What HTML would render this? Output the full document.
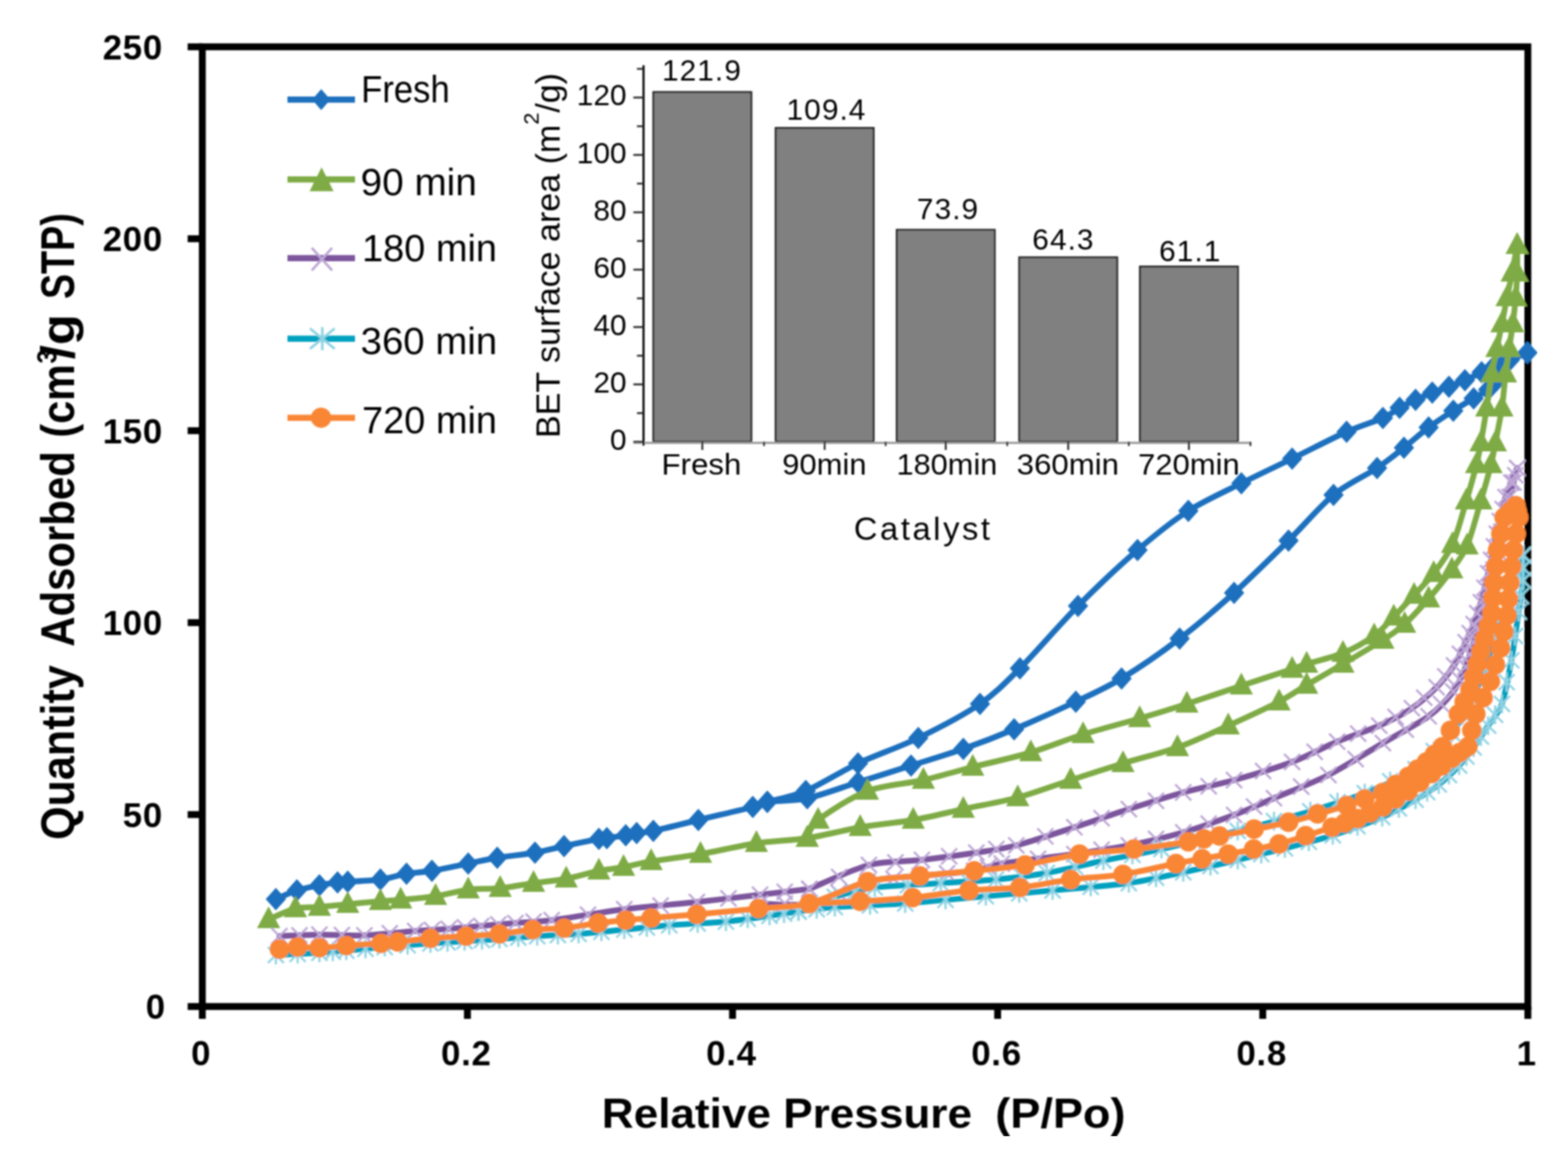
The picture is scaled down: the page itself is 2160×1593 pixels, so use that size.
<!DOCTYPE html>
<html><head><meta charset="utf-8"><title>N2 adsorption isotherms</title>
<style>
html,body{margin:0;padding:0;background:#fff;}
body{width:2160px;height:1593px;overflow:hidden;}
svg{display:block;}
.b{font-family:"Liberation Sans",Arial,sans-serif;font-weight:bold;fill:#000;}
.r{font-family:"Liberation Sans",Arial,sans-serif;fill:#000;}
</style></head><body>
<svg width="2160" height="1593" viewBox="0 0 2160 1593">
<defs><filter id="soft" x="0" y="0" width="100%" height="100%"><feGaussianBlur stdDeviation="1.2"/></filter></defs>
<rect x="0" y="0" width="2160" height="1593" fill="#fff"/>
<g filter="url(#soft)">

<g stroke="#000" stroke-width="9.5" fill="none" stroke-linecap="butt">
<rect x="278.7" y="64.5" width="1826.0" height="1322.5"/>
<line x1="258.5" y1="1387.0" x2="278.7" y2="1387.0"/>
<line x1="258.5" y1="1122.5" x2="278.7" y2="1122.5"/>
<line x1="258.5" y1="858.0" x2="278.7" y2="858.0"/>
<line x1="258.5" y1="593.5" x2="278.7" y2="593.5"/>
<line x1="258.5" y1="329.0" x2="278.7" y2="329.0"/>
<line x1="258.5" y1="64.5" x2="278.7" y2="64.5"/>
<line x1="278.7" y1="1387.0" x2="278.7" y2="1404"/>
<line x1="643.9" y1="1387.0" x2="643.9" y2="1404"/>
<line x1="1009.1" y1="1387.0" x2="1009.1" y2="1404"/>
<line x1="1374.3" y1="1387.0" x2="1374.3" y2="1404"/>
<line x1="1739.5" y1="1387.0" x2="1739.5" y2="1404"/>
<line x1="2104.7" y1="1387.0" x2="2104.7" y2="1404"/>
</g>
<g class="b" font-size="48" text-anchor="end" letter-spacing="1">
<text x="228.5" y="1404.0">0</text>
<text x="224.5" y="1139.5">50</text>
<text x="224.5" y="875.0">100</text>
<text x="224.5" y="610.5">150</text>
<text x="224.5" y="346.0">200</text>
<text x="224.5" y="81.5">250</text>
</g>
<g class="b" font-size="48" text-anchor="middle" letter-spacing="1">
<text x="277.2" y="1468">0</text>
<text x="642.4" y="1468">0.2</text>
<text x="1007.6" y="1468">0.4</text>
<text x="1372.8" y="1468">0.6</text>
<text x="1738.0" y="1468">0.8</text>
<text x="2103.2" y="1468">1</text>
</g>
<text class="b" font-size="57" x="829" y="1554" textLength="510" lengthAdjust="spacingAndGlyphs">Relative Pressure</text>
<text class="b" font-size="57" x="1371" y="1554" textLength="179.5" lengthAdjust="spacingAndGlyphs">(P/Po)</text>
<text class="b" font-size="64" transform="translate(101.6,1157.5) rotate(-90)" x="0" y="0" textLength="240.7" lengthAdjust="spacingAndGlyphs">Quantity</text>
<text class="b" font-size="64" transform="translate(101.6,891.3) rotate(-90)" x="0" y="0" textLength="269.5" lengthAdjust="spacingAndGlyphs">Adsorbed</text>
<text class="b" font-size="64" transform="translate(101.6,603.0) rotate(-90)" x="0" y="0" textLength="101.0" lengthAdjust="spacingAndGlyphs">(cm</text>
<text class="b" font-size="64" transform="translate(101.6,495.0) rotate(-90)" x="0" y="0" textLength="62.0" lengthAdjust="spacingAndGlyphs">/g</text>
<text class="b" font-size="64" transform="translate(101.6,412.0) rotate(-90)" x="0" y="0" textLength="118.2" lengthAdjust="spacingAndGlyphs">STP)</text>
<text class="b" font-size="38" transform="translate(78,501) rotate(-90)" x="0" y="0" textLength="19" lengthAdjust="spacingAndGlyphs">3</text>
<g>
<path d="M380.0,1239.0 C384.4,1237.2 400.0,1229.8 409.0,1227.0 C418.0,1224.2 431.6,1221.7 440.0,1220.0 C448.4,1218.3 459.1,1216.8 465.0,1216.0 C470.9,1215.2 470.1,1215.6 479.0,1215.0 C487.9,1214.4 511.9,1213.7 524.0,1212.0 C536.1,1210.3 549.4,1205.8 560.0,1204.0 C570.6,1202.2 582.2,1202.1 595.0,1200.0 C607.8,1197.9 631.5,1192.7 645.0,1190.0 C658.5,1187.3 671.2,1184.2 685.0,1182.0 C698.8,1179.8 723.2,1177.4 737.0,1175.0 C750.8,1172.6 763.8,1168.8 777.0,1166.0 C790.2,1163.2 816.1,1157.7 825.0,1156.0 C833.9,1154.3 830.5,1155.8 836.0,1155.0 C841.5,1154.2 855.9,1152.0 862.0,1151.0 C868.1,1150.0 871.3,1148.9 877.0,1148.0 C882.7,1147.1 887.2,1147.7 900.0,1145.0 C912.8,1142.3 941.5,1135.0 962.0,1130.0 C982.5,1125.0 1022.8,1115.8 1037.0,1112.0 C1051.2,1108.2 1045.8,1106.8 1057.0,1105.0 C1068.2,1103.2 1093.2,1104.0 1112.0,1100.0 C1130.8,1096.0 1160.5,1084.8 1182.0,1078.0 C1203.5,1071.2 1233.2,1061.9 1255.0,1055.0 C1276.8,1048.1 1305.7,1039.5 1327.0,1032.0 C1348.3,1024.5 1373.8,1014.8 1397.0,1005.0 C1420.2,995.2 1459.8,977.5 1482.0,967.0 C1504.2,956.5 1523.5,948.0 1545.0,935.0 C1566.5,922.0 1601.8,897.7 1625.0,880.0 C1648.2,862.3 1677.5,837.2 1700.0,817.0 C1722.5,796.8 1754.5,765.2 1775.0,745.0 C1795.5,724.8 1818.7,697.0 1837.0,682.0 C1855.3,667.0 1882.5,654.8 1897.0,645.0 C1911.5,635.2 1923.3,625.4 1934.0,617.0 C1944.7,608.6 1957.8,596.6 1968.0,589.0 C1978.2,581.4 1992.7,572.0 2002.0,566.0 C2011.3,560.0 2022.8,553.4 2030.0,549.0 C2037.2,544.6 2045.2,540.8 2050.0,537.0 C2054.8,533.2 2059.4,528.8 2062.0,524.0 C2064.6,519.2 2064.0,509.8 2067.0,505.0 C2070.0,500.2 2076.4,494.9 2082.0,492.0 C2087.6,489.1 2100.7,486.9 2104.0,486.0" fill="none" stroke="#1e6fbd" stroke-width="8" stroke-linejoin="round" stroke-linecap="round"/>
<path d="M2104.0,486.0 C2100.4,487.5 2087.1,493.0 2080.0,496.0 C2072.9,499.0 2062.8,503.4 2057.0,506.0 C2051.2,508.6 2046.8,510.3 2041.0,513.0 C2035.2,515.7 2024.8,521.0 2018.0,524.0 C2011.2,527.0 2002.8,530.5 1996.0,533.0 C1989.2,535.5 1979.9,538.3 1973.0,541.0 C1966.1,543.7 1956.8,547.9 1950.0,551.0 C1943.2,554.1 1934.8,558.2 1928.0,562.0 C1921.2,565.8 1916.0,571.0 1905.0,576.0 C1894.0,581.0 1873.8,586.6 1855.0,595.0 C1836.2,603.4 1801.8,621.4 1780.0,632.0 C1758.2,642.6 1731.5,655.2 1710.0,666.0 C1688.5,676.8 1658.5,690.2 1637.0,704.0 C1615.5,717.8 1589.8,738.4 1567.0,758.0 C1544.2,777.6 1509.3,810.5 1485.0,835.0 C1460.7,859.5 1425.2,900.8 1405.0,921.0 C1384.8,941.2 1371.0,955.6 1350.0,970.0 C1329.0,984.4 1290.2,1004.7 1265.0,1017.0 C1239.8,1029.3 1205.2,1041.0 1182.0,1052.0 C1158.8,1063.0 1128.8,1082.0 1110.0,1090.0 C1091.2,1098.0 1065.0,1102.8 1057.0,1105.0" fill="none" stroke="#1e6fbd" stroke-width="8" stroke-linejoin="round" stroke-linecap="round"/>
<path d="M380.0,1223.5 L394.0,1239.0 L380.0,1254.5 L366.0,1239.0Z" fill="#1e6fbd"/>
<path d="M409.0,1211.5 L423.0,1227.0 L409.0,1242.5 L395.0,1227.0Z" fill="#1e6fbd"/>
<path d="M440.0,1204.5 L454.0,1220.0 L440.0,1235.5 L426.0,1220.0Z" fill="#1e6fbd"/>
<path d="M465.0,1200.5 L479.0,1216.0 L465.0,1231.5 L451.0,1216.0Z" fill="#1e6fbd"/>
<path d="M479.0,1199.5 L493.0,1215.0 L479.0,1230.5 L465.0,1215.0Z" fill="#1e6fbd"/>
<path d="M524.0,1196.5 L538.0,1212.0 L524.0,1227.5 L510.0,1212.0Z" fill="#1e6fbd"/>
<path d="M560.0,1188.5 L574.0,1204.0 L560.0,1219.5 L546.0,1204.0Z" fill="#1e6fbd"/>
<path d="M595.0,1184.5 L609.0,1200.0 L595.0,1215.5 L581.0,1200.0Z" fill="#1e6fbd"/>
<path d="M645.0,1174.5 L659.0,1190.0 L645.0,1205.5 L631.0,1190.0Z" fill="#1e6fbd"/>
<path d="M685.0,1166.5 L699.0,1182.0 L685.0,1197.5 L671.0,1182.0Z" fill="#1e6fbd"/>
<path d="M737.0,1159.5 L751.0,1175.0 L737.0,1190.5 L723.0,1175.0Z" fill="#1e6fbd"/>
<path d="M777.0,1150.5 L791.0,1166.0 L777.0,1181.5 L763.0,1166.0Z" fill="#1e6fbd"/>
<path d="M825.0,1140.5 L839.0,1156.0 L825.0,1171.5 L811.0,1156.0Z" fill="#1e6fbd"/>
<path d="M836.0,1139.5 L850.0,1155.0 L836.0,1170.5 L822.0,1155.0Z" fill="#1e6fbd"/>
<path d="M862.0,1135.5 L876.0,1151.0 L862.0,1166.5 L848.0,1151.0Z" fill="#1e6fbd"/>
<path d="M877.0,1132.5 L891.0,1148.0 L877.0,1163.5 L863.0,1148.0Z" fill="#1e6fbd"/>
<path d="M900.0,1129.5 L914.0,1145.0 L900.0,1160.5 L886.0,1145.0Z" fill="#1e6fbd"/>
<path d="M962.0,1114.5 L976.0,1130.0 L962.0,1145.5 L948.0,1130.0Z" fill="#1e6fbd"/>
<path d="M1037.0,1096.5 L1051.0,1112.0 L1037.0,1127.5 L1023.0,1112.0Z" fill="#1e6fbd"/>
<path d="M1057.0,1089.5 L1071.0,1105.0 L1057.0,1120.5 L1043.0,1105.0Z" fill="#1e6fbd"/>
<path d="M1112.0,1084.5 L1126.0,1100.0 L1112.0,1115.5 L1098.0,1100.0Z" fill="#1e6fbd"/>
<path d="M1182.0,1062.5 L1196.0,1078.0 L1182.0,1093.5 L1168.0,1078.0Z" fill="#1e6fbd"/>
<path d="M1255.0,1039.5 L1269.0,1055.0 L1255.0,1070.5 L1241.0,1055.0Z" fill="#1e6fbd"/>
<path d="M1327.0,1016.5 L1341.0,1032.0 L1327.0,1047.5 L1313.0,1032.0Z" fill="#1e6fbd"/>
<path d="M1397.0,989.5 L1411.0,1005.0 L1397.0,1020.5 L1383.0,1005.0Z" fill="#1e6fbd"/>
<path d="M1482.0,951.5 L1496.0,967.0 L1482.0,982.5 L1468.0,967.0Z" fill="#1e6fbd"/>
<path d="M1545.0,919.5 L1559.0,935.0 L1545.0,950.5 L1531.0,935.0Z" fill="#1e6fbd"/>
<path d="M1625.0,864.5 L1639.0,880.0 L1625.0,895.5 L1611.0,880.0Z" fill="#1e6fbd"/>
<path d="M1700.0,801.5 L1714.0,817.0 L1700.0,832.5 L1686.0,817.0Z" fill="#1e6fbd"/>
<path d="M1775.0,729.5 L1789.0,745.0 L1775.0,760.5 L1761.0,745.0Z" fill="#1e6fbd"/>
<path d="M1837.0,666.5 L1851.0,682.0 L1837.0,697.5 L1823.0,682.0Z" fill="#1e6fbd"/>
<path d="M1897.0,629.5 L1911.0,645.0 L1897.0,660.5 L1883.0,645.0Z" fill="#1e6fbd"/>
<path d="M1934.0,601.5 L1948.0,617.0 L1934.0,632.5 L1920.0,617.0Z" fill="#1e6fbd"/>
<path d="M1968.0,573.5 L1982.0,589.0 L1968.0,604.5 L1954.0,589.0Z" fill="#1e6fbd"/>
<path d="M2002.0,550.5 L2016.0,566.0 L2002.0,581.5 L1988.0,566.0Z" fill="#1e6fbd"/>
<path d="M2030.0,533.5 L2044.0,549.0 L2030.0,564.5 L2016.0,549.0Z" fill="#1e6fbd"/>
<path d="M2050.0,521.5 L2064.0,537.0 L2050.0,552.5 L2036.0,537.0Z" fill="#1e6fbd"/>
<path d="M2062.0,508.5 L2076.0,524.0 L2062.0,539.5 L2048.0,524.0Z" fill="#1e6fbd"/>
<path d="M2067.0,489.5 L2081.0,505.0 L2067.0,520.5 L2053.0,505.0Z" fill="#1e6fbd"/>
<path d="M2082.0,476.5 L2096.0,492.0 L2082.0,507.5 L2068.0,492.0Z" fill="#1e6fbd"/>
<path d="M2104.0,470.5 L2118.0,486.0 L2104.0,501.5 L2090.0,486.0Z" fill="#1e6fbd"/>
<path d="M2104.0,470.5 L2118.0,486.0 L2104.0,501.5 L2090.0,486.0Z" fill="#1e6fbd"/>
<path d="M2080.0,480.5 L2094.0,496.0 L2080.0,511.5 L2066.0,496.0Z" fill="#1e6fbd"/>
<path d="M2057.0,490.5 L2071.0,506.0 L2057.0,521.5 L2043.0,506.0Z" fill="#1e6fbd"/>
<path d="M2041.0,497.5 L2055.0,513.0 L2041.0,528.5 L2027.0,513.0Z" fill="#1e6fbd"/>
<path d="M2018.0,508.5 L2032.0,524.0 L2018.0,539.5 L2004.0,524.0Z" fill="#1e6fbd"/>
<path d="M1996.0,517.5 L2010.0,533.0 L1996.0,548.5 L1982.0,533.0Z" fill="#1e6fbd"/>
<path d="M1973.0,525.5 L1987.0,541.0 L1973.0,556.5 L1959.0,541.0Z" fill="#1e6fbd"/>
<path d="M1950.0,535.5 L1964.0,551.0 L1950.0,566.5 L1936.0,551.0Z" fill="#1e6fbd"/>
<path d="M1928.0,546.5 L1942.0,562.0 L1928.0,577.5 L1914.0,562.0Z" fill="#1e6fbd"/>
<path d="M1905.0,560.5 L1919.0,576.0 L1905.0,591.5 L1891.0,576.0Z" fill="#1e6fbd"/>
<path d="M1855.0,579.5 L1869.0,595.0 L1855.0,610.5 L1841.0,595.0Z" fill="#1e6fbd"/>
<path d="M1780.0,616.5 L1794.0,632.0 L1780.0,647.5 L1766.0,632.0Z" fill="#1e6fbd"/>
<path d="M1710.0,650.5 L1724.0,666.0 L1710.0,681.5 L1696.0,666.0Z" fill="#1e6fbd"/>
<path d="M1637.0,688.5 L1651.0,704.0 L1637.0,719.5 L1623.0,704.0Z" fill="#1e6fbd"/>
<path d="M1567.0,742.5 L1581.0,758.0 L1567.0,773.5 L1553.0,758.0Z" fill="#1e6fbd"/>
<path d="M1485.0,819.5 L1499.0,835.0 L1485.0,850.5 L1471.0,835.0Z" fill="#1e6fbd"/>
<path d="M1405.0,905.5 L1419.0,921.0 L1405.0,936.5 L1391.0,921.0Z" fill="#1e6fbd"/>
<path d="M1350.0,954.5 L1364.0,970.0 L1350.0,985.5 L1336.0,970.0Z" fill="#1e6fbd"/>
<path d="M1265.0,1001.5 L1279.0,1017.0 L1265.0,1032.5 L1251.0,1017.0Z" fill="#1e6fbd"/>
<path d="M1182.0,1036.5 L1196.0,1052.0 L1182.0,1067.5 L1168.0,1052.0Z" fill="#1e6fbd"/>
<path d="M1110.0,1074.5 L1124.0,1090.0 L1110.0,1105.5 L1096.0,1090.0Z" fill="#1e6fbd"/>
<path d="M1057.0,1089.5 L1071.0,1105.0 L1057.0,1120.5 L1043.0,1105.0Z" fill="#1e6fbd"/>
</g>
<g>
<path d="M370.0,1267.0 C375.6,1264.8 396.5,1254.5 407.0,1252.0 C417.5,1249.5 429.2,1250.9 440.0,1250.0 C450.8,1249.1 466.4,1247.2 479.0,1246.0 C491.6,1244.8 513.0,1242.9 524.0,1242.0 C535.0,1241.1 540.6,1241.0 552.0,1240.0 C563.4,1239.0 586.0,1237.1 600.0,1235.0 C614.0,1232.9 631.6,1227.7 645.0,1226.0 C658.4,1224.3 675.5,1225.3 689.0,1224.0 C702.5,1222.7 721.4,1219.0 735.0,1217.0 C748.6,1215.0 766.5,1213.5 780.0,1211.0 C793.5,1208.5 813.1,1202.4 825.0,1200.0 C836.9,1197.6 848.2,1197.0 859.0,1195.0 C869.8,1193.0 881.1,1189.7 897.0,1187.0 C912.9,1184.3 943.2,1180.8 965.0,1177.0 C986.8,1173.2 1020.0,1165.3 1042.0,1162.0 C1064.0,1158.7 1090.5,1158.3 1112.0,1155.0 C1133.5,1151.7 1163.1,1143.8 1185.0,1140.0 C1206.9,1136.2 1236.7,1133.8 1258.0,1130.0 C1279.3,1126.2 1305.4,1119.7 1327.0,1115.0 C1348.6,1110.3 1379.8,1105.0 1402.0,1099.0 C1424.2,1093.0 1453.2,1082.0 1475.0,1075.0 C1496.8,1068.0 1525.0,1058.8 1547.0,1052.0 C1569.0,1045.2 1600.2,1037.8 1622.0,1030.0 C1643.8,1022.2 1671.0,1009.5 1692.0,1000.0 C1713.0,990.5 1745.8,975.4 1762.0,967.0 C1778.2,958.6 1786.8,951.8 1800.0,944.0 C1813.2,936.2 1834.2,924.3 1850.0,915.0 C1865.8,905.7 1892.2,890.2 1905.0,882.0 C1917.8,873.8 1925.5,868.5 1935.0,860.0 C1944.5,851.5 1958.2,836.2 1968.0,825.0 C1977.8,813.8 1992.0,796.0 2000.0,785.0 C2008.0,774.0 2015.0,766.2 2021.0,752.0 C2027.0,737.8 2035.0,706.8 2040.0,690.0 C2045.0,673.2 2051.0,652.0 2054.0,640.0 C2057.0,628.0 2057.8,621.7 2060.0,610.0 C2062.2,598.3 2066.9,576.2 2069.0,562.0 C2071.1,547.8 2072.5,527.3 2074.0,515.0 C2075.5,502.7 2077.5,490.4 2079.0,480.0 C2080.5,469.6 2082.7,456.5 2084.0,446.0 C2085.3,435.5 2087.1,420.5 2088.0,410.0 C2088.9,399.5 2089.7,386.8 2090.0,376.0 C2090.3,365.2 2090.0,343.7 2090.0,338.0" fill="none" stroke="#7eab44" stroke-width="8" stroke-linejoin="round" stroke-linecap="round"/>
<path d="M2090.0,338.0 C2088.9,343.7 2085.1,365.2 2083.0,376.0 C2080.9,386.8 2078.1,399.5 2076.0,410.0 C2073.9,420.5 2071.1,435.5 2069.0,446.0 C2066.9,456.5 2064.1,469.6 2062.0,480.0 C2059.9,490.4 2057.1,502.7 2055.0,515.0 C2052.9,527.3 2050.2,547.8 2048.0,562.0 C2045.8,576.2 2042.1,598.3 2040.0,610.0 C2037.9,621.7 2037.0,628.0 2034.0,640.0 C2031.0,652.0 2025.0,673.5 2020.0,690.0 C2015.0,706.5 2007.8,735.0 2001.0,750.0 C1994.2,765.0 1983.0,779.5 1975.0,790.0 C1967.0,800.5 1956.2,811.0 1948.0,820.0 C1939.8,829.0 1928.2,841.6 1920.0,850.0 C1911.8,858.4 1903.5,868.5 1893.0,876.0 C1882.5,883.5 1864.0,894.1 1850.0,900.0 C1836.0,905.9 1810.5,911.7 1800.0,915.0 C1789.5,918.3 1793.5,917.5 1780.0,922.0 C1766.5,926.5 1731.8,937.8 1710.0,945.0 C1688.2,952.2 1656.0,963.2 1635.0,970.0 C1614.0,976.8 1591.5,983.7 1570.0,990.0 C1548.5,996.3 1514.5,1005.0 1492.0,1012.0 C1469.5,1019.0 1442.8,1030.2 1420.0,1037.0 C1397.2,1043.8 1362.2,1051.3 1340.0,1057.0 C1317.8,1062.7 1293.8,1070.0 1272.0,1075.0 C1250.2,1080.0 1216.8,1081.8 1195.0,1090.0 C1173.2,1098.2 1139.5,1120.2 1127.0,1130.0 C1114.5,1139.8 1114.2,1151.2 1112.0,1155.0" fill="none" stroke="#7eab44" stroke-width="8" stroke-linejoin="round" stroke-linecap="round"/>
<path d="M370.0,1249.0 L386.0,1279.0 L354.0,1279.0Z" fill="#7eab44"/>
<path d="M407.0,1234.0 L423.0,1264.0 L391.0,1264.0Z" fill="#7eab44"/>
<path d="M440.0,1232.0 L456.0,1262.0 L424.0,1262.0Z" fill="#7eab44"/>
<path d="M479.0,1228.0 L495.0,1258.0 L463.0,1258.0Z" fill="#7eab44"/>
<path d="M524.0,1224.0 L540.0,1254.0 L508.0,1254.0Z" fill="#7eab44"/>
<path d="M552.0,1222.0 L568.0,1252.0 L536.0,1252.0Z" fill="#7eab44"/>
<path d="M600.0,1217.0 L616.0,1247.0 L584.0,1247.0Z" fill="#7eab44"/>
<path d="M645.0,1208.0 L661.0,1238.0 L629.0,1238.0Z" fill="#7eab44"/>
<path d="M689.0,1206.0 L705.0,1236.0 L673.0,1236.0Z" fill="#7eab44"/>
<path d="M735.0,1199.0 L751.0,1229.0 L719.0,1229.0Z" fill="#7eab44"/>
<path d="M780.0,1193.0 L796.0,1223.0 L764.0,1223.0Z" fill="#7eab44"/>
<path d="M825.0,1182.0 L841.0,1212.0 L809.0,1212.0Z" fill="#7eab44"/>
<path d="M859.0,1177.0 L875.0,1207.0 L843.0,1207.0Z" fill="#7eab44"/>
<path d="M897.0,1169.0 L913.0,1199.0 L881.0,1199.0Z" fill="#7eab44"/>
<path d="M965.0,1159.0 L981.0,1189.0 L949.0,1189.0Z" fill="#7eab44"/>
<path d="M1042.0,1144.0 L1058.0,1174.0 L1026.0,1174.0Z" fill="#7eab44"/>
<path d="M1112.0,1137.0 L1128.0,1167.0 L1096.0,1167.0Z" fill="#7eab44"/>
<path d="M1185.0,1122.0 L1201.0,1152.0 L1169.0,1152.0Z" fill="#7eab44"/>
<path d="M1258.0,1112.0 L1274.0,1142.0 L1242.0,1142.0Z" fill="#7eab44"/>
<path d="M1327.0,1097.0 L1343.0,1127.0 L1311.0,1127.0Z" fill="#7eab44"/>
<path d="M1402.0,1081.0 L1418.0,1111.0 L1386.0,1111.0Z" fill="#7eab44"/>
<path d="M1475.0,1057.0 L1491.0,1087.0 L1459.0,1087.0Z" fill="#7eab44"/>
<path d="M1547.0,1034.0 L1563.0,1064.0 L1531.0,1064.0Z" fill="#7eab44"/>
<path d="M1622.0,1012.0 L1638.0,1042.0 L1606.0,1042.0Z" fill="#7eab44"/>
<path d="M1692.0,982.0 L1708.0,1012.0 L1676.0,1012.0Z" fill="#7eab44"/>
<path d="M1762.0,949.0 L1778.0,979.0 L1746.0,979.0Z" fill="#7eab44"/>
<path d="M1800.0,926.0 L1816.0,956.0 L1784.0,956.0Z" fill="#7eab44"/>
<path d="M1850.0,897.0 L1866.0,927.0 L1834.0,927.0Z" fill="#7eab44"/>
<path d="M1905.0,864.0 L1921.0,894.0 L1889.0,894.0Z" fill="#7eab44"/>
<path d="M1935.0,842.0 L1951.0,872.0 L1919.0,872.0Z" fill="#7eab44"/>
<path d="M1968.0,807.0 L1984.0,837.0 L1952.0,837.0Z" fill="#7eab44"/>
<path d="M2000.0,767.0 L2016.0,797.0 L1984.0,797.0Z" fill="#7eab44"/>
<path d="M2021.0,734.0 L2037.0,764.0 L2005.0,764.0Z" fill="#7eab44"/>
<path d="M2040.0,672.0 L2056.0,702.0 L2024.0,702.0Z" fill="#7eab44"/>
<path d="M2054.0,622.0 L2070.0,652.0 L2038.0,652.0Z" fill="#7eab44"/>
<path d="M2060.0,592.0 L2076.0,622.0 L2044.0,622.0Z" fill="#7eab44"/>
<path d="M2069.0,544.0 L2085.0,574.0 L2053.0,574.0Z" fill="#7eab44"/>
<path d="M2074.0,497.0 L2090.0,527.0 L2058.0,527.0Z" fill="#7eab44"/>
<path d="M2079.0,462.0 L2095.0,492.0 L2063.0,492.0Z" fill="#7eab44"/>
<path d="M2084.0,428.0 L2100.0,458.0 L2068.0,458.0Z" fill="#7eab44"/>
<path d="M2088.0,392.0 L2104.0,422.0 L2072.0,422.0Z" fill="#7eab44"/>
<path d="M2090.0,358.0 L2106.0,388.0 L2074.0,388.0Z" fill="#7eab44"/>
<path d="M2090.0,320.0 L2106.0,350.0 L2074.0,350.0Z" fill="#7eab44"/>
<path d="M2090.0,320.0 L2106.0,350.0 L2074.0,350.0Z" fill="#7eab44"/>
<path d="M2083.0,358.0 L2099.0,388.0 L2067.0,388.0Z" fill="#7eab44"/>
<path d="M2076.0,392.0 L2092.0,422.0 L2060.0,422.0Z" fill="#7eab44"/>
<path d="M2069.0,428.0 L2085.0,458.0 L2053.0,458.0Z" fill="#7eab44"/>
<path d="M2062.0,462.0 L2078.0,492.0 L2046.0,492.0Z" fill="#7eab44"/>
<path d="M2055.0,497.0 L2071.0,527.0 L2039.0,527.0Z" fill="#7eab44"/>
<path d="M2048.0,544.0 L2064.0,574.0 L2032.0,574.0Z" fill="#7eab44"/>
<path d="M2040.0,592.0 L2056.0,622.0 L2024.0,622.0Z" fill="#7eab44"/>
<path d="M2034.0,622.0 L2050.0,652.0 L2018.0,652.0Z" fill="#7eab44"/>
<path d="M2020.0,672.0 L2036.0,702.0 L2004.0,702.0Z" fill="#7eab44"/>
<path d="M2001.0,732.0 L2017.0,762.0 L1985.0,762.0Z" fill="#7eab44"/>
<path d="M1975.0,772.0 L1991.0,802.0 L1959.0,802.0Z" fill="#7eab44"/>
<path d="M1948.0,802.0 L1964.0,832.0 L1932.0,832.0Z" fill="#7eab44"/>
<path d="M1920.0,832.0 L1936.0,862.0 L1904.0,862.0Z" fill="#7eab44"/>
<path d="M1893.0,858.0 L1909.0,888.0 L1877.0,888.0Z" fill="#7eab44"/>
<path d="M1850.0,882.0 L1866.0,912.0 L1834.0,912.0Z" fill="#7eab44"/>
<path d="M1800.0,897.0 L1816.0,927.0 L1784.0,927.0Z" fill="#7eab44"/>
<path d="M1780.0,904.0 L1796.0,934.0 L1764.0,934.0Z" fill="#7eab44"/>
<path d="M1710.0,927.0 L1726.0,957.0 L1694.0,957.0Z" fill="#7eab44"/>
<path d="M1635.0,952.0 L1651.0,982.0 L1619.0,982.0Z" fill="#7eab44"/>
<path d="M1570.0,972.0 L1586.0,1002.0 L1554.0,1002.0Z" fill="#7eab44"/>
<path d="M1492.0,994.0 L1508.0,1024.0 L1476.0,1024.0Z" fill="#7eab44"/>
<path d="M1420.0,1019.0 L1436.0,1049.0 L1404.0,1049.0Z" fill="#7eab44"/>
<path d="M1340.0,1039.0 L1356.0,1069.0 L1324.0,1069.0Z" fill="#7eab44"/>
<path d="M1272.0,1057.0 L1288.0,1087.0 L1256.0,1087.0Z" fill="#7eab44"/>
<path d="M1195.0,1072.0 L1211.0,1102.0 L1179.0,1102.0Z" fill="#7eab44"/>
<path d="M1127.0,1112.0 L1143.0,1142.0 L1111.0,1142.0Z" fill="#7eab44"/>
<path d="M1112.0,1137.0 L1128.0,1167.0 L1096.0,1167.0Z" fill="#7eab44"/>
</g>
<g>
<path d="M385.0,1290.0 C393.2,1289.7 422.4,1288.2 440.0,1288.0 C457.6,1287.8 482.2,1289.8 502.0,1289.0 C521.8,1288.2 554.6,1284.3 572.0,1283.0 C589.4,1281.7 604.4,1281.0 618.0,1280.0 C631.6,1279.0 649.2,1277.2 663.0,1276.0 C676.8,1274.8 695.5,1273.2 710.0,1272.0 C724.5,1270.8 737.5,1270.8 760.0,1268.0 C782.5,1265.2 830.0,1256.8 860.0,1253.0 C890.0,1249.2 932.0,1246.0 960.0,1243.0 C988.0,1240.0 1023.8,1235.7 1047.0,1233.0 C1070.2,1230.3 1104.8,1226.2 1115.0,1225.0" fill="none" stroke="#7b559c" stroke-width="8" stroke-linejoin="round" stroke-linecap="round"/>
<path d="M1115.0,1225.0 C1127.3,1220.0 1173.8,1198.0 1197.0,1192.0 C1220.2,1186.0 1247.8,1187.5 1270.0,1185.0 C1292.2,1182.5 1325.5,1178.0 1345.0,1175.0 C1364.5,1172.0 1379.8,1170.2 1400.0,1165.0 C1420.2,1159.8 1456.8,1147.5 1480.0,1140.0 C1503.2,1132.5 1532.5,1122.2 1555.0,1115.0 C1577.5,1107.8 1608.2,1098.0 1630.0,1092.0 C1651.8,1086.0 1677.5,1081.3 1700.0,1075.0 C1722.5,1068.7 1758.7,1058.0 1780.0,1050.0 C1801.3,1042.0 1824.0,1029.5 1842.0,1022.0 C1860.0,1014.5 1884.5,1006.9 1900.0,1000.0 C1915.5,993.1 1933.2,984.0 1945.0,976.0 C1956.8,968.0 1970.3,955.9 1979.0,947.0 C1987.7,938.1 1997.0,926.3 2003.0,917.0 C2009.0,907.7 2015.0,893.5 2019.0,885.0 C2023.0,876.5 2026.8,868.2 2030.0,860.0 C2033.2,851.8 2037.0,840.5 2040.0,830.0 C2043.0,819.5 2047.3,801.5 2050.0,790.0 C2052.7,778.5 2055.6,763.8 2058.0,753.0 C2060.4,742.2 2063.6,728.2 2066.0,718.0 C2068.4,707.8 2070.4,696.0 2074.0,685.0 C2077.6,674.0 2087.6,651.0 2090.0,645.0" fill="none" stroke="#7b559c" stroke-width="8" stroke-linejoin="round" stroke-linecap="round"/>
<path d="M1047.0,1245.0 C1057.2,1245.0 1092.8,1249.5 1115.0,1245.0 C1137.2,1240.5 1172.2,1220.7 1195.0,1215.0 C1217.8,1209.3 1245.0,1209.2 1267.0,1207.0 C1289.0,1204.8 1325.0,1202.5 1342.0,1200.0 C1359.0,1197.5 1359.3,1193.5 1380.0,1190.0 C1400.7,1186.5 1453.8,1180.8 1480.0,1177.0 C1506.2,1173.2 1532.5,1169.5 1555.0,1165.0 C1577.5,1160.5 1608.2,1153.3 1630.0,1147.0 C1651.8,1140.7 1681.2,1130.0 1700.0,1123.0 C1718.8,1116.0 1735.5,1108.2 1755.0,1100.0 C1774.5,1091.8 1807.5,1079.4 1830.0,1068.0 C1852.5,1056.6 1884.3,1036.2 1905.0,1024.0 C1925.7,1011.9 1953.5,997.6 1968.0,987.0 C1982.5,976.4 1994.3,963.2 2002.0,953.0 C2009.7,942.8 2014.8,929.2 2019.0,919.0 C2023.2,908.8 2026.7,895.2 2030.0,885.0 C2033.3,874.8 2037.7,862.2 2041.0,851.0 C2044.3,839.8 2048.7,823.6 2052.0,810.0 C2055.3,796.4 2059.7,775.8 2063.0,760.0 C2066.3,744.2 2070.7,719.2 2074.0,705.0 C2077.3,690.8 2082.6,674.0 2085.0,665.0 C2087.4,656.0 2089.2,648.0 2090.0,645.0" fill="none" stroke="#7b559c" stroke-width="8" stroke-linejoin="round" stroke-linecap="round"/>
<path d="M374.0,1279.0 L396.0,1301.0 M374.0,1301.0 L396.0,1279.0" stroke="#bda6d6" stroke-width="3" fill="none"/>
<path d="M429.0,1277.0 L451.0,1299.0 M429.0,1299.0 L451.0,1277.0" stroke="#bda6d6" stroke-width="3" fill="none"/>
<path d="M491.0,1278.0 L513.0,1300.0 M491.0,1300.0 L513.0,1278.0" stroke="#bda6d6" stroke-width="3" fill="none"/>
<path d="M561.0,1272.0 L583.0,1294.0 M561.0,1294.0 L583.0,1272.0" stroke="#bda6d6" stroke-width="3" fill="none"/>
<path d="M607.0,1269.0 L629.0,1291.0 M607.0,1291.0 L629.0,1269.0" stroke="#bda6d6" stroke-width="3" fill="none"/>
<path d="M652.0,1265.0 L674.0,1287.0 M652.0,1287.0 L674.0,1265.0" stroke="#bda6d6" stroke-width="3" fill="none"/>
<path d="M699.0,1261.0 L721.0,1283.0 M699.0,1283.0 L721.0,1261.0" stroke="#bda6d6" stroke-width="3" fill="none"/>
<path d="M749.0,1257.0 L771.0,1279.0 M749.0,1279.0 L771.0,1257.0" stroke="#bda6d6" stroke-width="3" fill="none"/>
<path d="M849.0,1242.0 L871.0,1264.0 M849.0,1264.0 L871.0,1242.0" stroke="#bda6d6" stroke-width="3" fill="none"/>
<path d="M949.0,1232.0 L971.0,1254.0 M949.0,1254.0 L971.0,1232.0" stroke="#bda6d6" stroke-width="3" fill="none"/>
<path d="M1036.0,1222.0 L1058.0,1244.0 M1036.0,1244.0 L1058.0,1222.0" stroke="#bda6d6" stroke-width="3" fill="none"/>
<path d="M1104.0,1214.0 L1126.0,1236.0 M1104.0,1236.0 L1126.0,1214.0" stroke="#bda6d6" stroke-width="3" fill="none"/>
<path d="M401.5,1278.0 L423.5,1300.0 M401.5,1300.0 L423.5,1278.0" stroke="#bda6d6" stroke-width="3" fill="none"/>
<path d="M460.0,1277.5 L482.0,1299.5 M460.0,1299.5 L482.0,1277.5" stroke="#bda6d6" stroke-width="3" fill="none"/>
<path d="M526.0,1275.0 L548.0,1297.0 M526.0,1297.0 L548.0,1275.0" stroke="#bda6d6" stroke-width="3" fill="none"/>
<path d="M584.0,1270.5 L606.0,1292.5 M584.0,1292.5 L606.0,1270.5" stroke="#bda6d6" stroke-width="3" fill="none"/>
<path d="M629.5,1267.0 L651.5,1289.0 M629.5,1289.0 L651.5,1267.0" stroke="#bda6d6" stroke-width="3" fill="none"/>
<path d="M675.5,1263.0 L697.5,1285.0 M675.5,1285.0 L697.5,1263.0" stroke="#bda6d6" stroke-width="3" fill="none"/>
<path d="M724.0,1259.0 L746.0,1281.0 M724.0,1281.0 L746.0,1259.0" stroke="#bda6d6" stroke-width="3" fill="none"/>
<path d="M799.0,1249.5 L821.0,1271.5 M799.0,1271.5 L821.0,1249.5" stroke="#bda6d6" stroke-width="3" fill="none"/>
<path d="M899.0,1237.0 L921.0,1259.0 M899.0,1259.0 L921.0,1237.0" stroke="#bda6d6" stroke-width="3" fill="none"/>
<path d="M992.5,1227.0 L1014.5,1249.0 M992.5,1249.0 L1014.5,1227.0" stroke="#bda6d6" stroke-width="3" fill="none"/>
<path d="M1070.0,1218.0 L1092.0,1240.0 M1070.0,1240.0 L1092.0,1218.0" stroke="#bda6d6" stroke-width="3" fill="none"/>
<path d="M1104.0,1214.0 L1126.0,1236.0 M1104.0,1236.0 L1126.0,1214.0" stroke="#bda6d6" stroke-width="3" fill="none"/>
<path d="M1186.0,1181.0 L1208.0,1203.0 M1186.0,1203.0 L1208.0,1181.0" stroke="#bda6d6" stroke-width="3" fill="none"/>
<path d="M1259.0,1174.0 L1281.0,1196.0 M1259.0,1196.0 L1281.0,1174.0" stroke="#bda6d6" stroke-width="3" fill="none"/>
<path d="M1334.0,1164.0 L1356.0,1186.0 M1334.0,1186.0 L1356.0,1164.0" stroke="#bda6d6" stroke-width="3" fill="none"/>
<path d="M1389.0,1154.0 L1411.0,1176.0 M1389.0,1176.0 L1411.0,1154.0" stroke="#bda6d6" stroke-width="3" fill="none"/>
<path d="M1469.0,1129.0 L1491.0,1151.0 M1469.0,1151.0 L1491.0,1129.0" stroke="#bda6d6" stroke-width="3" fill="none"/>
<path d="M1544.0,1104.0 L1566.0,1126.0 M1544.0,1126.0 L1566.0,1104.0" stroke="#bda6d6" stroke-width="3" fill="none"/>
<path d="M1619.0,1081.0 L1641.0,1103.0 M1619.0,1103.0 L1641.0,1081.0" stroke="#bda6d6" stroke-width="3" fill="none"/>
<path d="M1689.0,1064.0 L1711.0,1086.0 M1689.0,1086.0 L1711.0,1064.0" stroke="#bda6d6" stroke-width="3" fill="none"/>
<path d="M1769.0,1039.0 L1791.0,1061.0 M1769.0,1061.0 L1791.0,1039.0" stroke="#bda6d6" stroke-width="3" fill="none"/>
<path d="M1831.0,1011.0 L1853.0,1033.0 M1831.0,1033.0 L1853.0,1011.0" stroke="#bda6d6" stroke-width="3" fill="none"/>
<path d="M1889.0,989.0 L1911.0,1011.0 M1889.0,1011.0 L1911.0,989.0" stroke="#bda6d6" stroke-width="3" fill="none"/>
<path d="M1934.0,965.0 L1956.0,987.0 M1934.0,987.0 L1956.0,965.0" stroke="#bda6d6" stroke-width="3" fill="none"/>
<path d="M1968.0,936.0 L1990.0,958.0 M1968.0,958.0 L1990.0,936.0" stroke="#bda6d6" stroke-width="3" fill="none"/>
<path d="M1992.0,906.0 L2014.0,928.0 M1992.0,928.0 L2014.0,906.0" stroke="#bda6d6" stroke-width="3" fill="none"/>
<path d="M2008.0,874.0 L2030.0,896.0 M2008.0,896.0 L2030.0,874.0" stroke="#bda6d6" stroke-width="3" fill="none"/>
<path d="M2019.0,849.0 L2041.0,871.0 M2019.0,871.0 L2041.0,849.0" stroke="#bda6d6" stroke-width="3" fill="none"/>
<path d="M2029.0,819.0 L2051.0,841.0 M2029.0,841.0 L2051.0,819.0" stroke="#bda6d6" stroke-width="3" fill="none"/>
<path d="M2039.0,779.0 L2061.0,801.0 M2039.0,801.0 L2061.0,779.0" stroke="#bda6d6" stroke-width="3" fill="none"/>
<path d="M2047.0,742.0 L2069.0,764.0 M2047.0,764.0 L2069.0,742.0" stroke="#bda6d6" stroke-width="3" fill="none"/>
<path d="M2055.0,707.0 L2077.0,729.0 M2055.0,729.0 L2077.0,707.0" stroke="#bda6d6" stroke-width="3" fill="none"/>
<path d="M2063.0,674.0 L2085.0,696.0 M2063.0,696.0 L2085.0,674.0" stroke="#bda6d6" stroke-width="3" fill="none"/>
<path d="M2079.0,634.0 L2101.0,656.0 M2079.0,656.0 L2101.0,634.0" stroke="#bda6d6" stroke-width="3" fill="none"/>
<path d="M1145.0,1197.5 L1167.0,1219.5 M1145.0,1219.5 L1167.0,1197.5" stroke="#bda6d6" stroke-width="3" fill="none"/>
<path d="M1222.5,1177.5 L1244.5,1199.5 M1222.5,1199.5 L1244.5,1177.5" stroke="#bda6d6" stroke-width="3" fill="none"/>
<path d="M1296.5,1169.0 L1318.5,1191.0 M1296.5,1191.0 L1318.5,1169.0" stroke="#bda6d6" stroke-width="3" fill="none"/>
<path d="M1361.5,1159.0 L1383.5,1181.0 M1361.5,1181.0 L1383.5,1159.0" stroke="#bda6d6" stroke-width="3" fill="none"/>
<path d="M1429.0,1141.5 L1451.0,1163.5 M1429.0,1163.5 L1451.0,1141.5" stroke="#bda6d6" stroke-width="3" fill="none"/>
<path d="M1506.5,1116.5 L1528.5,1138.5 M1506.5,1138.5 L1528.5,1116.5" stroke="#bda6d6" stroke-width="3" fill="none"/>
<path d="M1581.5,1092.5 L1603.5,1114.5 M1581.5,1114.5 L1603.5,1092.5" stroke="#bda6d6" stroke-width="3" fill="none"/>
<path d="M1654.0,1072.5 L1676.0,1094.5 M1654.0,1094.5 L1676.0,1072.5" stroke="#bda6d6" stroke-width="3" fill="none"/>
<path d="M1729.0,1051.5 L1751.0,1073.5 M1729.0,1073.5 L1751.0,1051.5" stroke="#bda6d6" stroke-width="3" fill="none"/>
<path d="M1800.0,1025.0 L1822.0,1047.0 M1800.0,1047.0 L1822.0,1025.0" stroke="#bda6d6" stroke-width="3" fill="none"/>
<path d="M1860.0,1000.0 L1882.0,1022.0 M1860.0,1022.0 L1882.0,1000.0" stroke="#bda6d6" stroke-width="3" fill="none"/>
<path d="M1911.5,977.0 L1933.5,999.0 M1911.5,999.0 L1933.5,977.0" stroke="#bda6d6" stroke-width="3" fill="none"/>
<path d="M1951.0,950.5 L1973.0,972.5 M1951.0,972.5 L1973.0,950.5" stroke="#bda6d6" stroke-width="3" fill="none"/>
<path d="M1980.0,921.0 L2002.0,943.0 M1980.0,943.0 L2002.0,921.0" stroke="#bda6d6" stroke-width="3" fill="none"/>
<path d="M2000.0,890.0 L2022.0,912.0 M2000.0,912.0 L2022.0,890.0" stroke="#bda6d6" stroke-width="3" fill="none"/>
<path d="M2013.5,861.5 L2035.5,883.5 M2013.5,883.5 L2035.5,861.5" stroke="#bda6d6" stroke-width="3" fill="none"/>
<path d="M2024.0,834.0 L2046.0,856.0 M2024.0,856.0 L2046.0,834.0" stroke="#bda6d6" stroke-width="3" fill="none"/>
<path d="M2034.0,799.0 L2056.0,821.0 M2034.0,821.0 L2056.0,799.0" stroke="#bda6d6" stroke-width="3" fill="none"/>
<path d="M2043.0,760.5 L2065.0,782.5 M2043.0,782.5 L2065.0,760.5" stroke="#bda6d6" stroke-width="3" fill="none"/>
<path d="M2051.0,724.5 L2073.0,746.5 M2051.0,746.5 L2073.0,724.5" stroke="#bda6d6" stroke-width="3" fill="none"/>
<path d="M2059.0,690.5 L2081.0,712.5 M2059.0,712.5 L2081.0,690.5" stroke="#bda6d6" stroke-width="3" fill="none"/>
<path d="M2071.0,654.0 L2093.0,676.0 M2071.0,676.0 L2093.0,654.0" stroke="#bda6d6" stroke-width="3" fill="none"/>
<path d="M1036.0,1234.0 L1058.0,1256.0 M1036.0,1256.0 L1058.0,1234.0" stroke="#bda6d6" stroke-width="3" fill="none"/>
<path d="M1104.0,1234.0 L1126.0,1256.0 M1104.0,1256.0 L1126.0,1234.0" stroke="#bda6d6" stroke-width="3" fill="none"/>
<path d="M1184.0,1204.0 L1206.0,1226.0 M1184.0,1226.0 L1206.0,1204.0" stroke="#bda6d6" stroke-width="3" fill="none"/>
<path d="M1256.0,1196.0 L1278.0,1218.0 M1256.0,1218.0 L1278.0,1196.0" stroke="#bda6d6" stroke-width="3" fill="none"/>
<path d="M1331.0,1189.0 L1353.0,1211.0 M1331.0,1211.0 L1353.0,1189.0" stroke="#bda6d6" stroke-width="3" fill="none"/>
<path d="M1369.0,1179.0 L1391.0,1201.0 M1369.0,1201.0 L1391.0,1179.0" stroke="#bda6d6" stroke-width="3" fill="none"/>
<path d="M1469.0,1166.0 L1491.0,1188.0 M1469.0,1188.0 L1491.0,1166.0" stroke="#bda6d6" stroke-width="3" fill="none"/>
<path d="M1544.0,1154.0 L1566.0,1176.0 M1544.0,1176.0 L1566.0,1154.0" stroke="#bda6d6" stroke-width="3" fill="none"/>
<path d="M1619.0,1136.0 L1641.0,1158.0 M1619.0,1158.0 L1641.0,1136.0" stroke="#bda6d6" stroke-width="3" fill="none"/>
<path d="M1689.0,1112.0 L1711.0,1134.0 M1689.0,1134.0 L1711.0,1112.0" stroke="#bda6d6" stroke-width="3" fill="none"/>
<path d="M1744.0,1089.0 L1766.0,1111.0 M1744.0,1111.0 L1766.0,1089.0" stroke="#bda6d6" stroke-width="3" fill="none"/>
<path d="M1819.0,1057.0 L1841.0,1079.0 M1819.0,1079.0 L1841.0,1057.0" stroke="#bda6d6" stroke-width="3" fill="none"/>
<path d="M1894.0,1013.0 L1916.0,1035.0 M1894.0,1035.0 L1916.0,1013.0" stroke="#bda6d6" stroke-width="3" fill="none"/>
<path d="M1957.0,976.0 L1979.0,998.0 M1957.0,998.0 L1979.0,976.0" stroke="#bda6d6" stroke-width="3" fill="none"/>
<path d="M1991.0,942.0 L2013.0,964.0 M1991.0,964.0 L2013.0,942.0" stroke="#bda6d6" stroke-width="3" fill="none"/>
<path d="M2008.0,908.0 L2030.0,930.0 M2008.0,930.0 L2030.0,908.0" stroke="#bda6d6" stroke-width="3" fill="none"/>
<path d="M2019.0,874.0 L2041.0,896.0 M2019.0,896.0 L2041.0,874.0" stroke="#bda6d6" stroke-width="3" fill="none"/>
<path d="M2030.0,840.0 L2052.0,862.0 M2030.0,862.0 L2052.0,840.0" stroke="#bda6d6" stroke-width="3" fill="none"/>
<path d="M2041.0,799.0 L2063.0,821.0 M2041.0,821.0 L2063.0,799.0" stroke="#bda6d6" stroke-width="3" fill="none"/>
<path d="M2052.0,749.0 L2074.0,771.0 M2052.0,771.0 L2074.0,749.0" stroke="#bda6d6" stroke-width="3" fill="none"/>
<path d="M2063.0,694.0 L2085.0,716.0 M2063.0,716.0 L2085.0,694.0" stroke="#bda6d6" stroke-width="3" fill="none"/>
<path d="M2074.0,654.0 L2096.0,676.0 M2074.0,676.0 L2096.0,654.0" stroke="#bda6d6" stroke-width="3" fill="none"/>
<path d="M2079.0,634.0 L2101.0,656.0 M2079.0,656.0 L2101.0,634.0" stroke="#bda6d6" stroke-width="3" fill="none"/>
<path d="M1070.0,1234.0 L1092.0,1256.0 M1070.0,1256.0 L1092.0,1234.0" stroke="#bda6d6" stroke-width="3" fill="none"/>
<path d="M1144.0,1219.0 L1166.0,1241.0 M1144.0,1241.0 L1166.0,1219.0" stroke="#bda6d6" stroke-width="3" fill="none"/>
<path d="M1220.0,1200.0 L1242.0,1222.0 M1220.0,1222.0 L1242.0,1200.0" stroke="#bda6d6" stroke-width="3" fill="none"/>
<path d="M1293.5,1192.5 L1315.5,1214.5 M1293.5,1214.5 L1315.5,1192.5" stroke="#bda6d6" stroke-width="3" fill="none"/>
<path d="M1350.0,1184.0 L1372.0,1206.0 M1350.0,1206.0 L1372.0,1184.0" stroke="#bda6d6" stroke-width="3" fill="none"/>
<path d="M1419.0,1172.5 L1441.0,1194.5 M1419.0,1194.5 L1441.0,1172.5" stroke="#bda6d6" stroke-width="3" fill="none"/>
<path d="M1506.5,1160.0 L1528.5,1182.0 M1506.5,1182.0 L1528.5,1160.0" stroke="#bda6d6" stroke-width="3" fill="none"/>
<path d="M1581.5,1145.0 L1603.5,1167.0 M1581.5,1167.0 L1603.5,1145.0" stroke="#bda6d6" stroke-width="3" fill="none"/>
<path d="M1654.0,1124.0 L1676.0,1146.0 M1654.0,1146.0 L1676.0,1124.0" stroke="#bda6d6" stroke-width="3" fill="none"/>
<path d="M1716.5,1100.5 L1738.5,1122.5 M1716.5,1122.5 L1738.5,1100.5" stroke="#bda6d6" stroke-width="3" fill="none"/>
<path d="M1781.5,1073.0 L1803.5,1095.0 M1781.5,1095.0 L1803.5,1073.0" stroke="#bda6d6" stroke-width="3" fill="none"/>
<path d="M1856.5,1035.0 L1878.5,1057.0 M1856.5,1057.0 L1878.5,1035.0" stroke="#bda6d6" stroke-width="3" fill="none"/>
<path d="M1925.5,994.5 L1947.5,1016.5 M1925.5,1016.5 L1947.5,994.5" stroke="#bda6d6" stroke-width="3" fill="none"/>
<path d="M1974.0,959.0 L1996.0,981.0 M1974.0,981.0 L1996.0,959.0" stroke="#bda6d6" stroke-width="3" fill="none"/>
<path d="M1999.5,925.0 L2021.5,947.0 M1999.5,947.0 L2021.5,925.0" stroke="#bda6d6" stroke-width="3" fill="none"/>
<path d="M2013.5,891.0 L2035.5,913.0 M2013.5,913.0 L2035.5,891.0" stroke="#bda6d6" stroke-width="3" fill="none"/>
<path d="M2024.5,857.0 L2046.5,879.0 M2024.5,879.0 L2046.5,857.0" stroke="#bda6d6" stroke-width="3" fill="none"/>
<path d="M2035.5,819.5 L2057.5,841.5 M2035.5,841.5 L2057.5,819.5" stroke="#bda6d6" stroke-width="3" fill="none"/>
<path d="M2046.5,774.0 L2068.5,796.0 M2046.5,796.0 L2068.5,774.0" stroke="#bda6d6" stroke-width="3" fill="none"/>
<path d="M2057.5,721.5 L2079.5,743.5 M2057.5,743.5 L2079.5,721.5" stroke="#bda6d6" stroke-width="3" fill="none"/>
<path d="M2068.5,674.0 L2090.5,696.0 M2068.5,696.0 L2090.5,674.0" stroke="#bda6d6" stroke-width="3" fill="none"/>
<path d="M2076.5,644.0 L2098.5,666.0 M2076.5,666.0 L2098.5,644.0" stroke="#bda6d6" stroke-width="3" fill="none"/>
</g>
<g>
<path d="M380.0,1316.0 C389.0,1315.5 425.4,1313.9 440.0,1313.0 C454.6,1312.1 463.5,1311.2 477.0,1310.0 C490.5,1308.8 512.6,1306.5 530.0,1305.0 C547.4,1303.5 576.5,1301.2 593.0,1300.0 C609.5,1298.8 625.8,1297.9 640.0,1297.0 C654.2,1296.1 673.0,1295.0 688.0,1294.0 C703.0,1293.0 723.6,1291.0 740.0,1290.0 C756.4,1289.0 779.0,1288.3 797.0,1287.0 C815.0,1285.7 841.2,1282.8 860.0,1281.0 C878.8,1279.2 901.0,1276.7 922.0,1275.0 C943.0,1273.3 979.3,1272.0 1000.0,1270.0 C1020.7,1268.0 1045.0,1264.1 1060.0,1262.0 C1075.0,1259.9 1094.0,1256.9 1100.0,1256.0" fill="none" stroke="#05a0bf" stroke-width="8" stroke-linejoin="round" stroke-linecap="round"/>
<path d="M1100.0,1256.0 C1107.5,1253.0 1134.2,1241.0 1150.0,1236.0 C1165.8,1231.0 1183.1,1225.8 1205.0,1223.0 C1226.9,1220.2 1271.0,1218.7 1296.0,1217.0 C1321.0,1215.3 1350.1,1214.1 1372.0,1212.0 C1393.9,1209.9 1419.8,1206.9 1442.0,1203.0 C1464.2,1199.1 1496.3,1191.0 1520.0,1186.0 C1543.7,1181.0 1572.2,1176.2 1600.0,1170.0 C1627.8,1163.8 1674.2,1152.8 1705.0,1145.0 C1735.8,1137.2 1778.8,1125.8 1805.0,1118.0 C1831.2,1110.2 1858.2,1101.7 1880.0,1093.0 C1901.8,1084.3 1932.0,1072.5 1950.0,1060.0 C1968.0,1047.5 1988.0,1025.0 2000.0,1010.0 C2012.0,995.0 2021.0,979.5 2030.0,960.0 C2039.0,940.5 2052.5,901.0 2060.0,880.0 C2067.5,859.0 2074.3,837.2 2080.0,820.0 C2085.7,802.8 2095.3,773.2 2098.0,765.0" fill="none" stroke="#05a0bf" stroke-width="8" stroke-linejoin="round" stroke-linecap="round"/>
<path d="M1100.0,1256.0 C1107.5,1255.1 1128.0,1251.7 1150.0,1250.0 C1172.0,1248.3 1215.8,1247.2 1247.0,1245.0 C1278.2,1242.8 1327.5,1237.7 1358.0,1235.0 C1388.5,1232.3 1420.5,1229.7 1450.0,1227.0 C1479.5,1224.3 1528.0,1220.8 1555.0,1217.0 C1582.0,1213.2 1607.5,1206.8 1630.0,1202.0 C1652.5,1197.2 1684.0,1190.0 1705.0,1185.0 C1726.0,1180.0 1750.3,1174.1 1770.0,1169.0 C1789.7,1163.9 1815.9,1157.5 1836.0,1151.0 C1856.1,1144.5 1886.9,1133.3 1904.0,1126.0 C1921.1,1118.7 1938.3,1108.8 1950.0,1102.0 C1961.7,1095.2 1973.0,1088.0 1982.0,1081.0 C1991.0,1074.0 2002.8,1062.7 2010.0,1055.0 C2017.2,1047.3 2024.0,1038.2 2030.0,1030.0 C2036.0,1021.8 2044.2,1009.0 2050.0,1000.0 C2055.8,991.0 2064.2,983.5 2069.0,970.0 C2073.8,956.5 2078.6,929.0 2082.0,910.0 C2085.4,891.0 2089.6,859.5 2092.0,843.0 C2094.4,826.5 2097.1,811.7 2098.0,800.0 C2098.9,788.3 2098.0,770.2 2098.0,765.0" fill="none" stroke="#05a0bf" stroke-width="8" stroke-linejoin="round" stroke-linecap="round"/>
<path d="M369.0,1305.0 L391.0,1327.0 M369.0,1327.0 L391.0,1305.0 M380.0,1303.0 L380.0,1329.0" stroke="#8fd3e4" stroke-width="3" fill="none"/>
<path d="M429.0,1302.0 L451.0,1324.0 M429.0,1324.0 L451.0,1302.0 M440.0,1300.0 L440.0,1326.0" stroke="#8fd3e4" stroke-width="3" fill="none"/>
<path d="M466.0,1299.0 L488.0,1321.0 M466.0,1321.0 L488.0,1299.0 M477.0,1297.0 L477.0,1323.0" stroke="#8fd3e4" stroke-width="3" fill="none"/>
<path d="M519.0,1294.0 L541.0,1316.0 M519.0,1316.0 L541.0,1294.0 M530.0,1292.0 L530.0,1318.0" stroke="#8fd3e4" stroke-width="3" fill="none"/>
<path d="M582.0,1289.0 L604.0,1311.0 M582.0,1311.0 L604.0,1289.0 M593.0,1287.0 L593.0,1313.0" stroke="#8fd3e4" stroke-width="3" fill="none"/>
<path d="M629.0,1286.0 L651.0,1308.0 M629.0,1308.0 L651.0,1286.0 M640.0,1284.0 L640.0,1310.0" stroke="#8fd3e4" stroke-width="3" fill="none"/>
<path d="M677.0,1283.0 L699.0,1305.0 M677.0,1305.0 L699.0,1283.0 M688.0,1281.0 L688.0,1307.0" stroke="#8fd3e4" stroke-width="3" fill="none"/>
<path d="M729.0,1279.0 L751.0,1301.0 M729.0,1301.0 L751.0,1279.0 M740.0,1277.0 L740.0,1303.0" stroke="#8fd3e4" stroke-width="3" fill="none"/>
<path d="M786.0,1276.0 L808.0,1298.0 M786.0,1298.0 L808.0,1276.0 M797.0,1274.0 L797.0,1300.0" stroke="#8fd3e4" stroke-width="3" fill="none"/>
<path d="M849.0,1270.0 L871.0,1292.0 M849.0,1292.0 L871.0,1270.0 M860.0,1268.0 L860.0,1294.0" stroke="#8fd3e4" stroke-width="3" fill="none"/>
<path d="M911.0,1264.0 L933.0,1286.0 M911.0,1286.0 L933.0,1264.0 M922.0,1262.0 L922.0,1288.0" stroke="#8fd3e4" stroke-width="3" fill="none"/>
<path d="M989.0,1259.0 L1011.0,1281.0 M989.0,1281.0 L1011.0,1259.0 M1000.0,1257.0 L1000.0,1283.0" stroke="#8fd3e4" stroke-width="3" fill="none"/>
<path d="M1049.0,1251.0 L1071.0,1273.0 M1049.0,1273.0 L1071.0,1251.0 M1060.0,1249.0 L1060.0,1275.0" stroke="#8fd3e4" stroke-width="3" fill="none"/>
<path d="M1089.0,1245.0 L1111.0,1267.0 M1089.0,1267.0 L1111.0,1245.0 M1100.0,1243.0 L1100.0,1269.0" stroke="#8fd3e4" stroke-width="3" fill="none"/>
<path d="M399.0,1303.5 L421.0,1325.5 M399.0,1325.5 L421.0,1303.5 M410.0,1301.5 L410.0,1327.5" stroke="#8fd3e4" stroke-width="3" fill="none"/>
<path d="M447.5,1300.5 L469.5,1322.5 M447.5,1322.5 L469.5,1300.5 M458.5,1298.5 L458.5,1324.5" stroke="#8fd3e4" stroke-width="3" fill="none"/>
<path d="M492.5,1296.5 L514.5,1318.5 M492.5,1318.5 L514.5,1296.5 M503.5,1294.5 L503.5,1320.5" stroke="#8fd3e4" stroke-width="3" fill="none"/>
<path d="M550.5,1291.5 L572.5,1313.5 M550.5,1313.5 L572.5,1291.5 M561.5,1289.5 L561.5,1315.5" stroke="#8fd3e4" stroke-width="3" fill="none"/>
<path d="M605.5,1287.5 L627.5,1309.5 M605.5,1309.5 L627.5,1287.5 M616.5,1285.5 L616.5,1311.5" stroke="#8fd3e4" stroke-width="3" fill="none"/>
<path d="M653.0,1284.5 L675.0,1306.5 M653.0,1306.5 L675.0,1284.5 M664.0,1282.5 L664.0,1308.5" stroke="#8fd3e4" stroke-width="3" fill="none"/>
<path d="M703.0,1281.0 L725.0,1303.0 M703.0,1303.0 L725.0,1281.0 M714.0,1279.0 L714.0,1305.0" stroke="#8fd3e4" stroke-width="3" fill="none"/>
<path d="M757.5,1277.5 L779.5,1299.5 M757.5,1299.5 L779.5,1277.5 M768.5,1275.5 L768.5,1301.5" stroke="#8fd3e4" stroke-width="3" fill="none"/>
<path d="M817.5,1273.0 L839.5,1295.0 M817.5,1295.0 L839.5,1273.0 M828.5,1271.0 L828.5,1297.0" stroke="#8fd3e4" stroke-width="3" fill="none"/>
<path d="M880.0,1267.0 L902.0,1289.0 M880.0,1289.0 L902.0,1267.0 M891.0,1265.0 L891.0,1291.0" stroke="#8fd3e4" stroke-width="3" fill="none"/>
<path d="M950.0,1261.5 L972.0,1283.5 M950.0,1283.5 L972.0,1261.5 M961.0,1259.5 L961.0,1285.5" stroke="#8fd3e4" stroke-width="3" fill="none"/>
<path d="M1019.0,1255.0 L1041.0,1277.0 M1019.0,1277.0 L1041.0,1255.0 M1030.0,1253.0 L1030.0,1279.0" stroke="#8fd3e4" stroke-width="3" fill="none"/>
<path d="M1069.0,1248.0 L1091.0,1270.0 M1069.0,1270.0 L1091.0,1248.0 M1080.0,1246.0 L1080.0,1272.0" stroke="#8fd3e4" stroke-width="3" fill="none"/>
<path d="M1089.0,1245.0 L1111.0,1267.0 M1089.0,1267.0 L1111.0,1245.0 M1100.0,1243.0 L1100.0,1269.0" stroke="#8fd3e4" stroke-width="3" fill="none"/>
<path d="M1139.0,1225.0 L1161.0,1247.0 M1139.0,1247.0 L1161.0,1225.0 M1150.0,1223.0 L1150.0,1249.0" stroke="#8fd3e4" stroke-width="3" fill="none"/>
<path d="M1194.0,1212.0 L1216.0,1234.0 M1194.0,1234.0 L1216.0,1212.0 M1205.0,1210.0 L1205.0,1236.0" stroke="#8fd3e4" stroke-width="3" fill="none"/>
<path d="M1285.0,1206.0 L1307.0,1228.0 M1285.0,1228.0 L1307.0,1206.0 M1296.0,1204.0 L1296.0,1230.0" stroke="#8fd3e4" stroke-width="3" fill="none"/>
<path d="M1361.0,1201.0 L1383.0,1223.0 M1361.0,1223.0 L1383.0,1201.0 M1372.0,1199.0 L1372.0,1225.0" stroke="#8fd3e4" stroke-width="3" fill="none"/>
<path d="M1431.0,1192.0 L1453.0,1214.0 M1431.0,1214.0 L1453.0,1192.0 M1442.0,1190.0 L1442.0,1216.0" stroke="#8fd3e4" stroke-width="3" fill="none"/>
<path d="M1509.0,1175.0 L1531.0,1197.0 M1509.0,1197.0 L1531.0,1175.0 M1520.0,1173.0 L1520.0,1199.0" stroke="#8fd3e4" stroke-width="3" fill="none"/>
<path d="M1589.0,1159.0 L1611.0,1181.0 M1589.0,1181.0 L1611.0,1159.0 M1600.0,1157.0 L1600.0,1183.0" stroke="#8fd3e4" stroke-width="3" fill="none"/>
<path d="M1694.0,1134.0 L1716.0,1156.0 M1694.0,1156.0 L1716.0,1134.0 M1705.0,1132.0 L1705.0,1158.0" stroke="#8fd3e4" stroke-width="3" fill="none"/>
<path d="M1794.0,1107.0 L1816.0,1129.0 M1794.0,1129.0 L1816.0,1107.0 M1805.0,1105.0 L1805.0,1131.0" stroke="#8fd3e4" stroke-width="3" fill="none"/>
<path d="M1869.0,1082.0 L1891.0,1104.0 M1869.0,1104.0 L1891.0,1082.0 M1880.0,1080.0 L1880.0,1106.0" stroke="#8fd3e4" stroke-width="3" fill="none"/>
<path d="M1939.0,1049.0 L1961.0,1071.0 M1939.0,1071.0 L1961.0,1049.0 M1950.0,1047.0 L1950.0,1073.0" stroke="#8fd3e4" stroke-width="3" fill="none"/>
<path d="M1989.0,999.0 L2011.0,1021.0 M1989.0,1021.0 L2011.0,999.0 M2000.0,997.0 L2000.0,1023.0" stroke="#8fd3e4" stroke-width="3" fill="none"/>
<path d="M2019.0,949.0 L2041.0,971.0 M2019.0,971.0 L2041.0,949.0 M2030.0,947.0 L2030.0,973.0" stroke="#8fd3e4" stroke-width="3" fill="none"/>
<path d="M2049.0,869.0 L2071.0,891.0 M2049.0,891.0 L2071.0,869.0 M2060.0,867.0 L2060.0,893.0" stroke="#8fd3e4" stroke-width="3" fill="none"/>
<path d="M2069.0,809.0 L2091.0,831.0 M2069.0,831.0 L2091.0,809.0 M2080.0,807.0 L2080.0,833.0" stroke="#8fd3e4" stroke-width="3" fill="none"/>
<path d="M2087.0,754.0 L2109.0,776.0 M2087.0,776.0 L2109.0,754.0 M2098.0,752.0 L2098.0,778.0" stroke="#8fd3e4" stroke-width="3" fill="none"/>
<path d="M1114.0,1235.0 L1136.0,1257.0 M1114.0,1257.0 L1136.0,1235.0 M1125.0,1233.0 L1125.0,1259.0" stroke="#8fd3e4" stroke-width="3" fill="none"/>
<path d="M1166.5,1218.5 L1188.5,1240.5 M1166.5,1240.5 L1188.5,1218.5 M1177.5,1216.5 L1177.5,1242.5" stroke="#8fd3e4" stroke-width="3" fill="none"/>
<path d="M1239.5,1209.0 L1261.5,1231.0 M1239.5,1231.0 L1261.5,1209.0 M1250.5,1207.0 L1250.5,1233.0" stroke="#8fd3e4" stroke-width="3" fill="none"/>
<path d="M1323.0,1203.5 L1345.0,1225.5 M1323.0,1225.5 L1345.0,1203.5 M1334.0,1201.5 L1334.0,1227.5" stroke="#8fd3e4" stroke-width="3" fill="none"/>
<path d="M1396.0,1196.5 L1418.0,1218.5 M1396.0,1218.5 L1418.0,1196.5 M1407.0,1194.5 L1407.0,1220.5" stroke="#8fd3e4" stroke-width="3" fill="none"/>
<path d="M1470.0,1183.5 L1492.0,1205.5 M1470.0,1205.5 L1492.0,1183.5 M1481.0,1181.5 L1481.0,1207.5" stroke="#8fd3e4" stroke-width="3" fill="none"/>
<path d="M1549.0,1167.0 L1571.0,1189.0 M1549.0,1189.0 L1571.0,1167.0 M1560.0,1165.0 L1560.0,1191.0" stroke="#8fd3e4" stroke-width="3" fill="none"/>
<path d="M1641.5,1146.5 L1663.5,1168.5 M1641.5,1168.5 L1663.5,1146.5 M1652.5,1144.5 L1652.5,1170.5" stroke="#8fd3e4" stroke-width="3" fill="none"/>
<path d="M1744.0,1120.5 L1766.0,1142.5 M1744.0,1142.5 L1766.0,1120.5 M1755.0,1118.5 L1755.0,1144.5" stroke="#8fd3e4" stroke-width="3" fill="none"/>
<path d="M1831.5,1094.5 L1853.5,1116.5 M1831.5,1116.5 L1853.5,1094.5 M1842.5,1092.5 L1842.5,1118.5" stroke="#8fd3e4" stroke-width="3" fill="none"/>
<path d="M1904.0,1065.5 L1926.0,1087.5 M1904.0,1087.5 L1926.0,1065.5 M1915.0,1063.5 L1915.0,1089.5" stroke="#8fd3e4" stroke-width="3" fill="none"/>
<path d="M1964.0,1024.0 L1986.0,1046.0 M1964.0,1046.0 L1986.0,1024.0 M1975.0,1022.0 L1975.0,1048.0" stroke="#8fd3e4" stroke-width="3" fill="none"/>
<path d="M2004.0,974.0 L2026.0,996.0 M2004.0,996.0 L2026.0,974.0 M2015.0,972.0 L2015.0,998.0" stroke="#8fd3e4" stroke-width="3" fill="none"/>
<path d="M2034.0,909.0 L2056.0,931.0 M2034.0,931.0 L2056.0,909.0 M2045.0,907.0 L2045.0,933.0" stroke="#8fd3e4" stroke-width="3" fill="none"/>
<path d="M2059.0,839.0 L2081.0,861.0 M2059.0,861.0 L2081.0,839.0 M2070.0,837.0 L2070.0,863.0" stroke="#8fd3e4" stroke-width="3" fill="none"/>
<path d="M2078.0,781.5 L2100.0,803.5 M2078.0,803.5 L2100.0,781.5 M2089.0,779.5 L2089.0,805.5" stroke="#8fd3e4" stroke-width="3" fill="none"/>
<path d="M1089.0,1245.0 L1111.0,1267.0 M1089.0,1267.0 L1111.0,1245.0 M1100.0,1243.0 L1100.0,1269.0" stroke="#8fd3e4" stroke-width="3" fill="none"/>
<path d="M1139.0,1239.0 L1161.0,1261.0 M1139.0,1261.0 L1161.0,1239.0 M1150.0,1237.0 L1150.0,1263.0" stroke="#8fd3e4" stroke-width="3" fill="none"/>
<path d="M1236.0,1234.0 L1258.0,1256.0 M1236.0,1256.0 L1258.0,1234.0 M1247.0,1232.0 L1247.0,1258.0" stroke="#8fd3e4" stroke-width="3" fill="none"/>
<path d="M1347.0,1224.0 L1369.0,1246.0 M1347.0,1246.0 L1369.0,1224.0 M1358.0,1222.0 L1358.0,1248.0" stroke="#8fd3e4" stroke-width="3" fill="none"/>
<path d="M1439.0,1216.0 L1461.0,1238.0 M1439.0,1238.0 L1461.0,1216.0 M1450.0,1214.0 L1450.0,1240.0" stroke="#8fd3e4" stroke-width="3" fill="none"/>
<path d="M1544.0,1206.0 L1566.0,1228.0 M1544.0,1228.0 L1566.0,1206.0 M1555.0,1204.0 L1555.0,1230.0" stroke="#8fd3e4" stroke-width="3" fill="none"/>
<path d="M1619.0,1191.0 L1641.0,1213.0 M1619.0,1213.0 L1641.0,1191.0 M1630.0,1189.0 L1630.0,1215.0" stroke="#8fd3e4" stroke-width="3" fill="none"/>
<path d="M1694.0,1174.0 L1716.0,1196.0 M1694.0,1196.0 L1716.0,1174.0 M1705.0,1172.0 L1705.0,1198.0" stroke="#8fd3e4" stroke-width="3" fill="none"/>
<path d="M1759.0,1158.0 L1781.0,1180.0 M1759.0,1180.0 L1781.0,1158.0 M1770.0,1156.0 L1770.0,1182.0" stroke="#8fd3e4" stroke-width="3" fill="none"/>
<path d="M1825.0,1140.0 L1847.0,1162.0 M1825.0,1162.0 L1847.0,1140.0 M1836.0,1138.0 L1836.0,1164.0" stroke="#8fd3e4" stroke-width="3" fill="none"/>
<path d="M1893.0,1115.0 L1915.0,1137.0 M1893.0,1137.0 L1915.0,1115.0 M1904.0,1113.0 L1904.0,1139.0" stroke="#8fd3e4" stroke-width="3" fill="none"/>
<path d="M1939.0,1091.0 L1961.0,1113.0 M1939.0,1113.0 L1961.0,1091.0 M1950.0,1089.0 L1950.0,1115.0" stroke="#8fd3e4" stroke-width="3" fill="none"/>
<path d="M1971.0,1070.0 L1993.0,1092.0 M1971.0,1092.0 L1993.0,1070.0 M1982.0,1068.0 L1982.0,1094.0" stroke="#8fd3e4" stroke-width="3" fill="none"/>
<path d="M1999.0,1044.0 L2021.0,1066.0 M1999.0,1066.0 L2021.0,1044.0 M2010.0,1042.0 L2010.0,1068.0" stroke="#8fd3e4" stroke-width="3" fill="none"/>
<path d="M2019.0,1019.0 L2041.0,1041.0 M2019.0,1041.0 L2041.0,1019.0 M2030.0,1017.0 L2030.0,1043.0" stroke="#8fd3e4" stroke-width="3" fill="none"/>
<path d="M2039.0,989.0 L2061.0,1011.0 M2039.0,1011.0 L2061.0,989.0 M2050.0,987.0 L2050.0,1013.0" stroke="#8fd3e4" stroke-width="3" fill="none"/>
<path d="M2058.0,959.0 L2080.0,981.0 M2058.0,981.0 L2080.0,959.0 M2069.0,957.0 L2069.0,983.0" stroke="#8fd3e4" stroke-width="3" fill="none"/>
<path d="M2071.0,899.0 L2093.0,921.0 M2071.0,921.0 L2093.0,899.0 M2082.0,897.0 L2082.0,923.0" stroke="#8fd3e4" stroke-width="3" fill="none"/>
<path d="M2081.0,832.0 L2103.0,854.0 M2081.0,854.0 L2103.0,832.0 M2092.0,830.0 L2092.0,856.0" stroke="#8fd3e4" stroke-width="3" fill="none"/>
<path d="M2087.0,789.0 L2109.0,811.0 M2087.0,811.0 L2109.0,789.0 M2098.0,787.0 L2098.0,813.0" stroke="#8fd3e4" stroke-width="3" fill="none"/>
<path d="M2087.0,754.0 L2109.0,776.0 M2087.0,776.0 L2109.0,754.0 M2098.0,752.0 L2098.0,778.0" stroke="#8fd3e4" stroke-width="3" fill="none"/>
<path d="M1114.0,1242.0 L1136.0,1264.0 M1114.0,1264.0 L1136.0,1242.0 M1125.0,1240.0 L1125.0,1266.0" stroke="#8fd3e4" stroke-width="3" fill="none"/>
<path d="M1187.5,1236.5 L1209.5,1258.5 M1187.5,1258.5 L1209.5,1236.5 M1198.5,1234.5 L1198.5,1260.5" stroke="#8fd3e4" stroke-width="3" fill="none"/>
<path d="M1291.5,1229.0 L1313.5,1251.0 M1291.5,1251.0 L1313.5,1229.0 M1302.5,1227.0 L1302.5,1253.0" stroke="#8fd3e4" stroke-width="3" fill="none"/>
<path d="M1393.0,1220.0 L1415.0,1242.0 M1393.0,1242.0 L1415.0,1220.0 M1404.0,1218.0 L1404.0,1244.0" stroke="#8fd3e4" stroke-width="3" fill="none"/>
<path d="M1491.5,1211.0 L1513.5,1233.0 M1491.5,1233.0 L1513.5,1211.0 M1502.5,1209.0 L1502.5,1235.0" stroke="#8fd3e4" stroke-width="3" fill="none"/>
<path d="M1581.5,1198.5 L1603.5,1220.5 M1581.5,1220.5 L1603.5,1198.5 M1592.5,1196.5 L1592.5,1222.5" stroke="#8fd3e4" stroke-width="3" fill="none"/>
<path d="M1656.5,1182.5 L1678.5,1204.5 M1656.5,1204.5 L1678.5,1182.5 M1667.5,1180.5 L1667.5,1206.5" stroke="#8fd3e4" stroke-width="3" fill="none"/>
<path d="M1726.5,1166.0 L1748.5,1188.0 M1726.5,1188.0 L1748.5,1166.0 M1737.5,1164.0 L1737.5,1190.0" stroke="#8fd3e4" stroke-width="3" fill="none"/>
<path d="M1792.0,1149.0 L1814.0,1171.0 M1792.0,1171.0 L1814.0,1149.0 M1803.0,1147.0 L1803.0,1173.0" stroke="#8fd3e4" stroke-width="3" fill="none"/>
<path d="M1859.0,1127.5 L1881.0,1149.5 M1859.0,1149.5 L1881.0,1127.5 M1870.0,1125.5 L1870.0,1151.5" stroke="#8fd3e4" stroke-width="3" fill="none"/>
<path d="M1916.0,1103.0 L1938.0,1125.0 M1916.0,1125.0 L1938.0,1103.0 M1927.0,1101.0 L1927.0,1127.0" stroke="#8fd3e4" stroke-width="3" fill="none"/>
<path d="M1955.0,1080.5 L1977.0,1102.5 M1955.0,1102.5 L1977.0,1080.5 M1966.0,1078.5 L1966.0,1104.5" stroke="#8fd3e4" stroke-width="3" fill="none"/>
<path d="M1985.0,1057.0 L2007.0,1079.0 M1985.0,1079.0 L2007.0,1057.0 M1996.0,1055.0 L1996.0,1081.0" stroke="#8fd3e4" stroke-width="3" fill="none"/>
<path d="M2009.0,1031.5 L2031.0,1053.5 M2009.0,1053.5 L2031.0,1031.5 M2020.0,1029.5 L2020.0,1055.5" stroke="#8fd3e4" stroke-width="3" fill="none"/>
<path d="M2029.0,1004.0 L2051.0,1026.0 M2029.0,1026.0 L2051.0,1004.0 M2040.0,1002.0 L2040.0,1028.0" stroke="#8fd3e4" stroke-width="3" fill="none"/>
<path d="M2048.5,974.0 L2070.5,996.0 M2048.5,996.0 L2070.5,974.0 M2059.5,972.0 L2059.5,998.0" stroke="#8fd3e4" stroke-width="3" fill="none"/>
<path d="M2064.5,929.0 L2086.5,951.0 M2064.5,951.0 L2086.5,929.0 M2075.5,927.0 L2075.5,953.0" stroke="#8fd3e4" stroke-width="3" fill="none"/>
<path d="M2076.0,865.5 L2098.0,887.5 M2076.0,887.5 L2098.0,865.5 M2087.0,863.5 L2087.0,889.5" stroke="#8fd3e4" stroke-width="3" fill="none"/>
<path d="M2084.0,810.5 L2106.0,832.5 M2084.0,832.5 L2106.0,810.5 M2095.0,808.5 L2095.0,834.5" stroke="#8fd3e4" stroke-width="3" fill="none"/>
<path d="M2087.0,771.5 L2109.0,793.5 M2087.0,793.5 L2109.0,771.5 M2098.0,769.5 L2098.0,795.5" stroke="#8fd3e4" stroke-width="3" fill="none"/>
</g>
<g>
<path d="M385.0,1308.0 C388.8,1307.5 401.8,1305.3 410.0,1305.0 C418.2,1304.7 429.9,1306.3 440.0,1306.0 C450.1,1305.7 464.2,1303.9 477.0,1303.0 C489.8,1302.1 514.4,1300.8 525.0,1300.0 C535.6,1299.2 537.8,1299.0 548.0,1298.0 C558.2,1297.0 578.9,1294.2 593.0,1293.0 C607.1,1291.8 627.8,1290.9 642.0,1290.0 C656.2,1289.1 674.2,1288.3 688.0,1287.0 C701.8,1285.7 720.6,1282.2 734.0,1281.0 C747.4,1279.8 763.5,1280.3 777.0,1279.0 C790.5,1277.7 811.2,1273.7 824.0,1272.0 C836.8,1270.3 851.0,1269.0 862.0,1268.0 C873.0,1267.0 882.3,1266.2 897.0,1265.0 C911.7,1263.8 937.8,1262.0 960.0,1260.0 C982.2,1258.0 1021.8,1254.2 1045.0,1252.0 C1068.2,1249.8 1092.5,1250.5 1115.0,1245.0 C1137.5,1239.5 1172.2,1220.7 1195.0,1215.0 C1217.8,1209.3 1245.0,1209.2 1267.0,1207.0 C1289.0,1204.8 1320.2,1202.2 1342.0,1200.0 C1363.8,1197.8 1390.2,1195.5 1412.0,1192.0 C1433.8,1188.5 1464.5,1180.3 1487.0,1177.0 C1509.5,1173.7 1539.5,1172.5 1562.0,1170.0 C1584.5,1167.5 1619.3,1162.7 1637.0,1160.0 C1654.7,1157.3 1659.3,1156.0 1680.0,1152.0 C1700.7,1148.0 1748.8,1139.3 1775.0,1133.0 C1801.2,1126.7 1835.5,1116.2 1855.0,1110.0 C1874.5,1103.8 1892.2,1098.0 1905.0,1092.0 C1917.8,1086.0 1931.0,1076.3 1940.0,1070.0 C1949.0,1063.7 1958.0,1056.2 1965.0,1050.0 C1972.0,1043.8 1980.4,1038.9 1987.0,1029.0 C1993.6,1019.1 2003.3,995.9 2009.0,984.0 C2014.7,972.1 2021.1,960.4 2025.0,950.0 C2028.9,939.6 2032.0,925.5 2035.0,915.0 C2038.0,904.5 2042.0,890.5 2045.0,880.0 C2048.0,869.5 2053.1,856.5 2055.0,845.0 C2056.9,833.5 2056.8,816.0 2058.0,803.0 C2059.2,790.0 2060.9,771.5 2063.0,758.0 C2065.1,744.5 2068.2,722.1 2072.0,713.0 C2075.8,703.9 2085.6,699.4 2088.0,697.0" fill="none" stroke="#f98636" stroke-width="8" stroke-linejoin="round" stroke-linecap="round"/>
<path d="M1115.0,1245.0 C1125.5,1244.5 1163.7,1243.2 1185.0,1242.0 C1206.3,1240.8 1234.5,1239.2 1257.0,1237.0 C1279.5,1234.8 1312.8,1229.1 1335.0,1227.0 C1357.2,1224.9 1384.0,1225.2 1405.0,1223.0 C1426.0,1220.8 1453.7,1214.7 1475.0,1212.0 C1496.3,1209.3 1525.2,1208.3 1547.0,1205.0 C1568.8,1201.7 1598.2,1194.2 1620.0,1190.0 C1641.8,1185.8 1670.7,1181.0 1692.0,1177.0 C1713.3,1173.0 1740.5,1168.5 1762.0,1163.0 C1783.5,1157.5 1818.8,1145.2 1835.0,1140.0 C1851.2,1134.8 1859.5,1132.2 1870.0,1128.0 C1880.5,1123.8 1894.5,1117.7 1905.0,1112.0 C1915.5,1106.3 1930.0,1096.9 1940.0,1090.0 C1950.0,1083.1 1963.0,1072.8 1972.0,1066.0 C1981.0,1059.2 1992.5,1050.5 2000.0,1045.0 C2007.5,1039.5 2017.0,1038.2 2022.0,1029.0 C2027.0,1019.9 2028.3,997.5 2033.0,984.0 C2037.7,970.5 2047.9,952.6 2053.0,939.0 C2058.1,925.4 2063.6,906.6 2067.0,893.0 C2070.4,879.4 2074.1,861.5 2076.0,848.0 C2077.9,834.5 2078.7,816.5 2080.0,803.0 C2081.3,789.5 2083.2,771.5 2085.0,758.0 C2086.8,744.5 2091.6,722.1 2092.0,713.0 C2092.4,703.9 2088.6,699.4 2088.0,697.0" fill="none" stroke="#f98636" stroke-width="8" stroke-linejoin="round" stroke-linecap="round"/>
<circle cx="385.0" cy="1308.0" r="13.5" fill="#f98636"/>
<circle cx="410.0" cy="1305.0" r="13.5" fill="#f98636"/>
<circle cx="440.0" cy="1306.0" r="13.5" fill="#f98636"/>
<circle cx="477.0" cy="1303.0" r="13.5" fill="#f98636"/>
<circle cx="525.0" cy="1300.0" r="13.5" fill="#f98636"/>
<circle cx="548.0" cy="1298.0" r="13.5" fill="#f98636"/>
<circle cx="593.0" cy="1293.0" r="13.5" fill="#f98636"/>
<circle cx="642.0" cy="1290.0" r="13.5" fill="#f98636"/>
<circle cx="688.0" cy="1287.0" r="13.5" fill="#f98636"/>
<circle cx="734.0" cy="1281.0" r="13.5" fill="#f98636"/>
<circle cx="777.0" cy="1279.0" r="13.5" fill="#f98636"/>
<circle cx="824.0" cy="1272.0" r="13.5" fill="#f98636"/>
<circle cx="862.0" cy="1268.0" r="13.5" fill="#f98636"/>
<circle cx="897.0" cy="1265.0" r="13.5" fill="#f98636"/>
<circle cx="960.0" cy="1260.0" r="13.5" fill="#f98636"/>
<circle cx="1045.0" cy="1252.0" r="13.5" fill="#f98636"/>
<circle cx="1115.0" cy="1245.0" r="13.5" fill="#f98636"/>
<circle cx="1195.0" cy="1215.0" r="13.5" fill="#f98636"/>
<circle cx="1267.0" cy="1207.0" r="13.5" fill="#f98636"/>
<circle cx="1342.0" cy="1200.0" r="13.5" fill="#f98636"/>
<circle cx="1412.0" cy="1192.0" r="13.5" fill="#f98636"/>
<circle cx="1487.0" cy="1177.0" r="13.5" fill="#f98636"/>
<circle cx="1562.0" cy="1170.0" r="13.5" fill="#f98636"/>
<circle cx="1637.0" cy="1160.0" r="13.5" fill="#f98636"/>
<circle cx="1680.0" cy="1152.0" r="13.5" fill="#f98636"/>
<circle cx="1775.0" cy="1133.0" r="13.5" fill="#f98636"/>
<circle cx="1855.0" cy="1110.0" r="13.5" fill="#f98636"/>
<circle cx="1905.0" cy="1092.0" r="13.5" fill="#f98636"/>
<circle cx="1940.0" cy="1070.0" r="13.5" fill="#f98636"/>
<circle cx="1965.0" cy="1050.0" r="13.5" fill="#f98636"/>
<circle cx="1987.0" cy="1029.0" r="13.5" fill="#f98636"/>
<circle cx="2009.0" cy="984.0" r="13.5" fill="#f98636"/>
<circle cx="2025.0" cy="950.0" r="13.5" fill="#f98636"/>
<circle cx="2035.0" cy="915.0" r="13.5" fill="#f98636"/>
<circle cx="2045.0" cy="880.0" r="13.5" fill="#f98636"/>
<circle cx="2055.0" cy="845.0" r="13.5" fill="#f98636"/>
<circle cx="2058.0" cy="803.0" r="13.5" fill="#f98636"/>
<circle cx="2063.0" cy="758.0" r="13.5" fill="#f98636"/>
<circle cx="2072.0" cy="713.0" r="13.5" fill="#f98636"/>
<circle cx="2088.0" cy="697.0" r="13.5" fill="#f98636"/>
<circle cx="1658.5" cy="1156.0" r="13.5" fill="#f98636"/>
<circle cx="1727.5" cy="1142.5" r="13.5" fill="#f98636"/>
<circle cx="1815.0" cy="1121.5" r="13.5" fill="#f98636"/>
<circle cx="1880.0" cy="1101.0" r="13.5" fill="#f98636"/>
<circle cx="1922.5" cy="1081.0" r="13.5" fill="#f98636"/>
<circle cx="1952.5" cy="1060.0" r="13.5" fill="#f98636"/>
<circle cx="1976.0" cy="1039.5" r="13.5" fill="#f98636"/>
<circle cx="1998.0" cy="1006.5" r="13.5" fill="#f98636"/>
<circle cx="2017.0" cy="967.0" r="13.5" fill="#f98636"/>
<circle cx="2030.0" cy="932.5" r="13.5" fill="#f98636"/>
<circle cx="2040.0" cy="897.5" r="13.5" fill="#f98636"/>
<circle cx="2050.0" cy="862.5" r="13.5" fill="#f98636"/>
<circle cx="2056.5" cy="824.0" r="13.5" fill="#f98636"/>
<circle cx="2060.5" cy="780.5" r="13.5" fill="#f98636"/>
<circle cx="2067.5" cy="735.5" r="13.5" fill="#f98636"/>
<circle cx="2080.0" cy="705.0" r="13.5" fill="#f98636"/>
<circle cx="1115.0" cy="1245.0" r="13.5" fill="#f98636"/>
<circle cx="1185.0" cy="1242.0" r="13.5" fill="#f98636"/>
<circle cx="1257.0" cy="1237.0" r="13.5" fill="#f98636"/>
<circle cx="1335.0" cy="1227.0" r="13.5" fill="#f98636"/>
<circle cx="1405.0" cy="1223.0" r="13.5" fill="#f98636"/>
<circle cx="1475.0" cy="1212.0" r="13.5" fill="#f98636"/>
<circle cx="1547.0" cy="1205.0" r="13.5" fill="#f98636"/>
<circle cx="1620.0" cy="1190.0" r="13.5" fill="#f98636"/>
<circle cx="1692.0" cy="1177.0" r="13.5" fill="#f98636"/>
<circle cx="1762.0" cy="1163.0" r="13.5" fill="#f98636"/>
<circle cx="1835.0" cy="1140.0" r="13.5" fill="#f98636"/>
<circle cx="1870.0" cy="1128.0" r="13.5" fill="#f98636"/>
<circle cx="1905.0" cy="1112.0" r="13.5" fill="#f98636"/>
<circle cx="1940.0" cy="1090.0" r="13.5" fill="#f98636"/>
<circle cx="1972.0" cy="1066.0" r="13.5" fill="#f98636"/>
<circle cx="2000.0" cy="1045.0" r="13.5" fill="#f98636"/>
<circle cx="2022.0" cy="1029.0" r="13.5" fill="#f98636"/>
<circle cx="2033.0" cy="984.0" r="13.5" fill="#f98636"/>
<circle cx="2053.0" cy="939.0" r="13.5" fill="#f98636"/>
<circle cx="2067.0" cy="893.0" r="13.5" fill="#f98636"/>
<circle cx="2076.0" cy="848.0" r="13.5" fill="#f98636"/>
<circle cx="2080.0" cy="803.0" r="13.5" fill="#f98636"/>
<circle cx="2085.0" cy="758.0" r="13.5" fill="#f98636"/>
<circle cx="2092.0" cy="713.0" r="13.5" fill="#f98636"/>
<circle cx="2088.0" cy="697.0" r="13.5" fill="#f98636"/>
<circle cx="1656.0" cy="1183.5" r="13.5" fill="#f98636"/>
<circle cx="1727.0" cy="1170.0" r="13.5" fill="#f98636"/>
<circle cx="1798.5" cy="1151.5" r="13.5" fill="#f98636"/>
<circle cx="1852.5" cy="1134.0" r="13.5" fill="#f98636"/>
<circle cx="1887.5" cy="1120.0" r="13.5" fill="#f98636"/>
<circle cx="1922.5" cy="1101.0" r="13.5" fill="#f98636"/>
<circle cx="1956.0" cy="1078.0" r="13.5" fill="#f98636"/>
<circle cx="1986.0" cy="1055.5" r="13.5" fill="#f98636"/>
<circle cx="2011.0" cy="1037.0" r="13.5" fill="#f98636"/>
<circle cx="2027.5" cy="1006.5" r="13.5" fill="#f98636"/>
<circle cx="2043.0" cy="961.5" r="13.5" fill="#f98636"/>
<circle cx="2060.0" cy="916.0" r="13.5" fill="#f98636"/>
<circle cx="2071.5" cy="870.5" r="13.5" fill="#f98636"/>
<circle cx="2078.0" cy="825.5" r="13.5" fill="#f98636"/>
<circle cx="2082.5" cy="780.5" r="13.5" fill="#f98636"/>
<circle cx="2088.5" cy="735.5" r="13.5" fill="#f98636"/>
<circle cx="2090.0" cy="705.0" r="13.5" fill="#f98636"/>
</g>
<g>
<rect x="900.0" y="126.9" width="135" height="481.9" fill="#808080" stroke="#1c1c1c" stroke-width="2.5"/>
<rect x="1068.5" y="176.3" width="135" height="432.5" fill="#808080" stroke="#1c1c1c" stroke-width="2.5"/>
<rect x="1235.3" y="316.7" width="135" height="292.1" fill="#808080" stroke="#1c1c1c" stroke-width="2.5"/>
<rect x="1404.0" y="354.6" width="135" height="254.2" fill="#808080" stroke="#1c1c1c" stroke-width="2.5"/>
<rect x="1570.3" y="367.3" width="135" height="241.5" fill="#808080" stroke="#1c1c1c" stroke-width="2.5"/>
</g>
<line x1="872.5" y1="610.3" x2="1722" y2="610.3" stroke="#999" stroke-width="3"/>
<g stroke="#222" stroke-width="2.5">
<line x1="967.5" y1="608.8" x2="967.5" y2="620"/>
<line x1="1136.0" y1="608.8" x2="1136.0" y2="620"/>
<line x1="1302.8" y1="608.8" x2="1302.8" y2="620"/>
<line x1="1471.5" y1="608.8" x2="1471.5" y2="620"/>
<line x1="1637.8" y1="608.8" x2="1637.8" y2="620"/>
<line x1="1052.5" y1="608.8" x2="1052.5" y2="614.5"/>
<line x1="1220.0" y1="608.8" x2="1220.0" y2="614.5"/>
<line x1="1387.5" y1="608.8" x2="1387.5" y2="614.5"/>
<line x1="1555.0" y1="608.8" x2="1555.0" y2="614.5"/>
<line x1="1722.5" y1="608.8" x2="1722.5" y2="614.5"/>
</g>
<line x1="886.5" y1="90" x2="886.5" y2="614" stroke="#111" stroke-width="3"/>
<g stroke="#222" stroke-width="2.5">
<line x1="872.5" y1="608.8" x2="886.5" y2="608.8"/>
<line x1="872.5" y1="529.7" x2="886.5" y2="529.7"/>
<line x1="872.5" y1="450.7" x2="886.5" y2="450.7"/>
<line x1="872.5" y1="371.6" x2="886.5" y2="371.6"/>
<line x1="872.5" y1="292.6" x2="886.5" y2="292.6"/>
<line x1="872.5" y1="213.5" x2="886.5" y2="213.5"/>
<line x1="872.5" y1="134.4" x2="886.5" y2="134.4"/>
<line x1="877.5" y1="569.3" x2="886.5" y2="569.3"/>
<line x1="877.5" y1="490.2" x2="886.5" y2="490.2"/>
<line x1="877.5" y1="411.1" x2="886.5" y2="411.1"/>
<line x1="877.5" y1="332.1" x2="886.5" y2="332.1"/>
<line x1="877.5" y1="253.0" x2="886.5" y2="253.0"/>
<line x1="877.5" y1="174.0" x2="886.5" y2="174.0"/>
<line x1="877.5" y1="94.9" x2="886.5" y2="94.9"/>
</g>
<g class="r" font-size="41" text-anchor="end" fill="#222">
<text x="863" y="619.8">0</text>
<text x="863" y="540.7">20</text>
<text x="863" y="461.7">40</text>
<text x="863" y="382.6">60</text>
<text x="863" y="303.6">80</text>
<text x="863" y="224.5">100</text>
<text x="863" y="145.4">120</text>
</g>
<g class="r" font-size="41" text-anchor="middle" fill="#222">
<text x="967.0" y="111.3" letter-spacing="1.5">121.9</text>
<text x="1138.6" y="165.0" letter-spacing="1.5">109.4</text>
<text x="1306.0" y="302.2" letter-spacing="1.5">73.9</text>
<text x="1465.0" y="344.4" letter-spacing="1.5">64.3</text>
<text x="1639.7" y="359.7" letter-spacing="1.5">61.1</text>
</g>
<g class="r" font-size="41" fill="#222">
<text x="911.3" y="653.5" textLength="110" lengthAdjust="spacingAndGlyphs">Fresh</text>
<text x="1077.6" y="653.5" textLength="116" lengthAdjust="spacingAndGlyphs">90min</text>
<text x="1234.9" y="653.5" textLength="139" lengthAdjust="spacingAndGlyphs">180min</text>
<text x="1400.5" y="653.5" textLength="141" lengthAdjust="spacingAndGlyphs">360min</text>
<text x="1567.7" y="653.5" textLength="140" lengthAdjust="spacingAndGlyphs">720min</text>
</g>
<text class="r" font-size="45" x="1176.3" y="743.8" textLength="187.5" lengthAdjust="spacing" fill="#111">Catalyst</text>
<text class="r" font-size="47" fill="#111" transform="translate(771,603.5) rotate(-90)" x="0" y="0" textLength="503" lengthAdjust="spacingAndGlyphs">BET surface area (m<tspan font-size="30" dy="-29">2</tspan><tspan dy="29">/g)</tspan></text>
<line x1="396" y1="137.3" x2="489" y2="137.3" stroke="#1e6fbd" stroke-width="8.5"/>
<path d="M442.5,122.8 L455.0,137.3 L442.5,151.8 L430.0,137.3Z" fill="#1e6fbd"/>
<text class="r" font-size="51" x="497.5" y="141.0" textLength="122" lengthAdjust="spacingAndGlyphs">Fresh</text>
<line x1="396" y1="247.2" x2="489" y2="247.2" stroke="#7eab44" stroke-width="8.5"/>
<path d="M443.0,230.4 L459.5,263.4 L426.5,263.4Z" fill="#7eab44"/>
<text class="r" font-size="51" x="496.8" y="269.0" textLength="160" lengthAdjust="spacingAndGlyphs">90 min</text>
<line x1="396" y1="355.7" x2="489" y2="355.7" stroke="#7b559c" stroke-width="8.5"/>
<path d="M429.5,341.7 L457.5,372.7 M429.5,372.7 L457.5,341.7" stroke="#bda6d6" stroke-width="3.5" fill="none"/>
<text class="r" font-size="51" x="498.7" y="359.6" textLength="186" lengthAdjust="spacingAndGlyphs">180 min</text>
<line x1="396" y1="466.7" x2="489" y2="466.7" stroke="#05a0bf" stroke-width="8.5"/>
<path d="M427.0,452.7 L461.0,480.7 M427.0,480.7 L461.0,452.7 M444.0,450.7 L444.0,482.7" stroke="#8fd3e4" stroke-width="3.5" fill="none"/>
<text class="r" font-size="51" x="496.8" y="488.1" textLength="188" lengthAdjust="spacingAndGlyphs">360 min</text>
<line x1="396" y1="575.7" x2="489" y2="575.7" stroke="#f98636" stroke-width="8.5"/>
<circle cx="442.3" cy="575.7" r="14" fill="#f98636"/>
<text class="r" font-size="51" x="498.7" y="597.1" textLength="186" lengthAdjust="spacingAndGlyphs">720 min</text>
</g>
</svg>
</body></html>
